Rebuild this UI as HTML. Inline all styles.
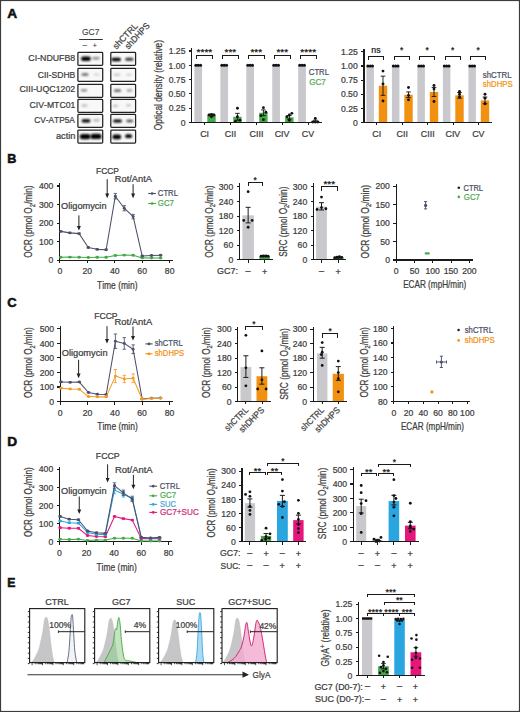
<!DOCTYPE html>
<html><head><meta charset="utf-8"><style>
html,body{margin:0;padding:0;background:#fff;}
svg{display:block;font-family:"Liberation Sans", sans-serif;}
text{font-kerning:none;font-variant-ligatures:none;}
</style></head><body>
<svg width="520" height="712" viewBox="0 0 520 712">
<rect x="0" y="0" width="520" height="712" fill="#fff"/>
<text transform="translate(7.36,17.90) scale(1.0389,1)" font-size="13.2" fill="#111" font-weight="bold" stroke="#111" stroke-width="0.55">A</text>
<text transform="translate(7.26,163.10) scale(0.9565,1)" font-size="13.2" fill="#111" font-weight="bold" stroke="#111" stroke-width="0.55">B</text>
<text transform="translate(7.17,307.30) scale(0.9849,1)" font-size="13.2" fill="#111" font-weight="bold" stroke="#111" stroke-width="0.55">C</text>
<text transform="translate(7.18,446.30) scale(1.0376,1)" font-size="13.2" fill="#111" font-weight="bold" stroke="#111" stroke-width="0.55">D</text>
<text transform="translate(7.28,586.50) scale(0.9317,1)" font-size="13.2" fill="#111" font-weight="bold" stroke="#111" stroke-width="0.55">E</text>
<defs><filter id="bl" x="-50%" y="-100%" width="200%" height="300%"><feGaussianBlur stdDeviation="0.85"/></filter></defs>
<rect x="77.90" y="52.40" width="24.80" height="13.0" fill="#f8f8f8" stroke="#222" stroke-width="1.25" rx="0.8"/>
<rect x="110.80" y="52.40" width="24.80" height="13.0" fill="#f8f8f8" stroke="#222" stroke-width="1.25" rx="0.8"/>
<rect x="81.00" y="56.50" width="9.80" height="4.40" rx="2.20" fill="#000" opacity="1.0" filter="url(#bl)"/>
<rect x="92.50" y="57.10" width="7.00" height="2.40" rx="1.20" fill="#000" opacity="0.45" filter="url(#bl)"/>
<rect x="111.40" y="57.70" width="9.60" height="3.60" rx="1.80" fill="#000" opacity="1.0" filter="url(#bl)"/>
<rect x="125.20" y="57.70" width="8.20" height="3.00" rx="1.50" fill="#000" opacity="0.8" filter="url(#bl)"/>
<text transform="translate(28.35,61.20) scale(0.9361,1)" font-size="9.4" fill="#3d3d3d" stroke="#3d3d3d" stroke-width="0.24">CI-NDUFB8</text>
<rect x="77.90" y="68.30" width="24.80" height="13.0" fill="#f8f8f8" stroke="#222" stroke-width="1.25" rx="0.8"/>
<rect x="110.80" y="68.30" width="24.80" height="13.0" fill="#f8f8f8" stroke="#222" stroke-width="1.25" rx="0.8"/>
<rect x="81.50" y="73.00" width="7.00" height="3.00" rx="1.50" fill="#000" opacity="0.5" filter="url(#bl)"/>
<rect x="93.50" y="73.30" width="6.00" height="2.40" rx="1.20" fill="#000" opacity="0.12" filter="url(#bl)"/>
<rect x="113.50" y="73.40" width="7.00" height="2.60" rx="1.30" fill="#000" opacity="0.18" filter="url(#bl)"/>
<rect x="126.00" y="73.50" width="6.00" height="2.40" rx="1.20" fill="#000" opacity="0.13" filter="url(#bl)"/>
<text transform="translate(37.77,77.70) scale(0.9110,1)" font-size="9.4" fill="#3d3d3d" stroke="#3d3d3d" stroke-width="0.24">CII-SDHB</text>
<rect x="77.90" y="84.30" width="24.80" height="13.0" fill="#f8f8f8" stroke="#222" stroke-width="1.25" rx="0.8"/>
<rect x="110.80" y="84.30" width="24.80" height="13.0" fill="#f8f8f8" stroke="#222" stroke-width="1.25" rx="0.8"/>
<rect x="80.80" y="89.20" width="6.40" height="2.20" rx="1.10" fill="#000" opacity="0.48" filter="url(#bl)"/>
<rect x="113.90" y="89.30" width="7.20" height="2.80" rx="1.40" fill="#000" opacity="0.55" filter="url(#bl)"/>
<rect x="126.70" y="89.30" width="5.60" height="2.40" rx="1.20" fill="#000" opacity="0.36" filter="url(#bl)"/>
<text transform="translate(19.45,92.10) scale(0.9385,1)" font-size="9.4" fill="#3d3d3d" stroke="#3d3d3d" stroke-width="0.24">CIII-UQC1202</text>
<rect x="77.90" y="99.40" width="24.80" height="13.0" fill="#f8f8f8" stroke="#222" stroke-width="1.25" rx="0.8"/>
<rect x="110.80" y="99.40" width="24.80" height="13.0" fill="#f8f8f8" stroke="#222" stroke-width="1.25" rx="0.8"/>
<rect x="81.50" y="103.90" width="6.00" height="3.00" rx="1.50" fill="#000" opacity="0.2" filter="url(#bl)"/>
<rect x="113.00" y="104.70" width="5.00" height="2.20" rx="1.10" fill="#000" opacity="0.24" filter="url(#bl)"/>
<rect x="126.00" y="104.30" width="5.00" height="2.20" rx="1.10" fill="#000" opacity="0.2" filter="url(#bl)"/>
<text transform="translate(29.56,108.30) scale(0.9224,1)" font-size="9.4" fill="#3d3d3d" stroke="#3d3d3d" stroke-width="0.24">CIV-MTC01</text>
<rect x="77.90" y="114.40" width="24.80" height="13.0" fill="#f8f8f8" stroke="#222" stroke-width="1.25" rx="0.8"/>
<rect x="110.80" y="114.40" width="24.80" height="13.0" fill="#f8f8f8" stroke="#222" stroke-width="1.25" rx="0.8"/>
<rect x="81.60" y="119.20" width="8.80" height="3.20" rx="1.60" fill="#000" opacity="1.0" filter="url(#bl)"/>
<rect x="93.30" y="119.20" width="6.40" height="2.20" rx="1.10" fill="#000" opacity="0.3" filter="url(#bl)"/>
<rect x="113.10" y="119.40" width="8.80" height="3.20" rx="1.60" fill="#000" opacity="1.0" filter="url(#bl)"/>
<rect x="126.30" y="119.80" width="6.80" height="2.40" rx="1.20" fill="#000" opacity="0.7" filter="url(#bl)"/>
<text transform="translate(34.18,122.80) scale(0.8863,1)" font-size="9.4" fill="#3d3d3d" stroke="#3d3d3d" stroke-width="0.24">CV-ATP5A</text>
<rect x="77.90" y="130.00" width="24.80" height="13.0" fill="#f8f8f8" stroke="#222" stroke-width="1.25" rx="0.8"/>
<rect x="110.80" y="130.00" width="24.80" height="13.0" fill="#f8f8f8" stroke="#222" stroke-width="1.25" rx="0.8"/>
<rect x="79.80" y="133.90" width="10.80" height="5.40" rx="2.70" fill="#000" opacity="1.0" filter="url(#bl)"/>
<rect x="90.50" y="133.70" width="11.00" height="5.40" rx="2.70" fill="#000" opacity="1.0" filter="url(#bl)"/>
<rect x="112.40" y="134.60" width="8.80" height="4.60" rx="2.30" fill="#000" opacity="1.0" filter="url(#bl)"/>
<rect x="125.10" y="134.30" width="7.00" height="3.80" rx="1.90" fill="#000" opacity="1.0" filter="url(#bl)"/>
<text transform="translate(55.91,138.70) scale(0.9870,1)" font-size="9.4" fill="#3d3d3d" stroke="#3d3d3d" stroke-width="0.24">actin</text>
<text transform="translate(81.97,35.20) scale(0.9227,1)" font-size="9.2" fill="#3d3d3d" stroke="#3d3d3d" stroke-width="0.1">GC7</text>
<line x1="79.20" y1="39.50" x2="102.80" y2="39.50" stroke="#333" stroke-width="1.0" />
<text transform="translate(82.40,47.60) scale(0.9641,1)" font-size="8.4" fill="#3d3d3d" stroke="#3d3d3d" stroke-width="0.1">–</text>
<text transform="translate(92.52,48.00)" font-size="7.8" fill="#3d3d3d" stroke="#3d3d3d" stroke-width="0.1">+</text>
<text transform="translate(116.60,49.60) rotate(-47) translate(-0.24,0) scale(0.9814,1)" font-size="8.9" fill="#3d3d3d" stroke="#3d3d3d" stroke-width="0.24">shCTRL</text>
<text transform="translate(128.60,49.60) rotate(-47) translate(-0.23,0) scale(0.9441,1)" font-size="8.9" fill="#3d3d3d" stroke="#3d3d3d" stroke-width="0.24">shDHPS</text>
<rect x="194.40" y="65.30" width="7.70" height="57.20" fill="#c9c8cd" />
<rect x="207.30" y="115.06" width="8.40" height="7.44" fill="#44aa48" />
<rect x="220.35" y="65.30" width="7.70" height="57.20" fill="#c9c8cd" />
<rect x="233.25" y="116.78" width="8.40" height="5.72" fill="#44aa48" />
<rect x="246.30" y="65.30" width="7.70" height="57.20" fill="#c9c8cd" />
<rect x="259.20" y="112.78" width="8.40" height="9.72" fill="#44aa48" />
<rect x="272.25" y="65.30" width="7.70" height="57.20" fill="#c9c8cd" />
<rect x="285.15" y="117.35" width="8.40" height="5.15" fill="#44aa48" />
<rect x="298.20" y="65.30" width="7.70" height="57.20" fill="#c9c8cd" />
<rect x="311.10" y="121.36" width="8.40" height="1.14" fill="#44aa48" />
<circle cx="195.95" cy="65.30" r="1.55" fill="#111"/>
<circle cx="198.25" cy="65.30" r="1.55" fill="#111"/>
<circle cx="200.55" cy="65.30" r="1.55" fill="#111"/>
<line x1="211.50" y1="115.92" x2="211.50" y2="114.21" stroke="#111" stroke-width="0.9" />
<line x1="209.20" y1="114.21" x2="213.80" y2="114.21" stroke="#111" stroke-width="0.9" />
<line x1="209.20" y1="115.92" x2="213.80" y2="115.92" stroke="#111" stroke-width="0.9" />
<circle cx="209.00" cy="115.06" r="1.45" fill="#111"/>
<circle cx="211.50" cy="114.49" r="1.45" fill="#111"/>
<circle cx="214.00" cy="115.06" r="1.45" fill="#111"/>
<circle cx="211.50" cy="116.78" r="1.45" fill="#111"/>
<circle cx="221.90" cy="65.30" r="1.55" fill="#111"/>
<circle cx="224.20" cy="65.30" r="1.55" fill="#111"/>
<circle cx="226.50" cy="65.30" r="1.55" fill="#111"/>
<line x1="237.45" y1="120.21" x2="237.45" y2="113.35" stroke="#111" stroke-width="0.9" />
<line x1="235.15" y1="113.35" x2="239.75" y2="113.35" stroke="#111" stroke-width="0.9" />
<line x1="235.15" y1="120.21" x2="239.75" y2="120.21" stroke="#111" stroke-width="0.9" />
<circle cx="235.45" cy="121.36" r="1.45" fill="#111"/>
<circle cx="237.45" cy="108.20" r="1.45" fill="#111"/>
<circle cx="239.95" cy="120.21" r="1.45" fill="#111"/>
<circle cx="237.45" cy="116.78" r="1.45" fill="#111"/>
<circle cx="247.85" cy="65.30" r="1.55" fill="#111"/>
<circle cx="250.15" cy="65.30" r="1.55" fill="#111"/>
<circle cx="252.45" cy="65.30" r="1.55" fill="#111"/>
<line x1="263.40" y1="115.64" x2="263.40" y2="109.92" stroke="#111" stroke-width="0.9" />
<line x1="261.10" y1="109.92" x2="265.70" y2="109.92" stroke="#111" stroke-width="0.9" />
<line x1="261.10" y1="115.64" x2="265.70" y2="115.64" stroke="#111" stroke-width="0.9" />
<circle cx="260.90" cy="115.64" r="1.45" fill="#111"/>
<circle cx="263.40" cy="107.63" r="1.45" fill="#111"/>
<circle cx="265.90" cy="112.20" r="1.45" fill="#111"/>
<circle cx="263.40" cy="119.64" r="1.45" fill="#111"/>
<circle cx="273.80" cy="65.30" r="1.55" fill="#111"/>
<circle cx="276.10" cy="65.30" r="1.55" fill="#111"/>
<circle cx="278.40" cy="65.30" r="1.55" fill="#111"/>
<line x1="289.35" y1="119.07" x2="289.35" y2="115.64" stroke="#111" stroke-width="0.9" />
<line x1="287.05" y1="115.64" x2="291.65" y2="115.64" stroke="#111" stroke-width="0.9" />
<line x1="287.05" y1="119.07" x2="291.65" y2="119.07" stroke="#111" stroke-width="0.9" />
<circle cx="286.85" cy="116.78" r="1.45" fill="#111"/>
<circle cx="289.35" cy="115.06" r="1.45" fill="#111"/>
<circle cx="291.85" cy="113.35" r="1.45" fill="#111"/>
<circle cx="289.35" cy="120.21" r="1.45" fill="#111"/>
<circle cx="299.75" cy="65.30" r="1.55" fill="#111"/>
<circle cx="302.05" cy="65.30" r="1.55" fill="#111"/>
<circle cx="304.35" cy="65.30" r="1.55" fill="#111"/>
<line x1="315.30" y1="122.50" x2="315.30" y2="120.21" stroke="#111" stroke-width="0.9" />
<line x1="313.00" y1="120.21" x2="317.60" y2="120.21" stroke="#111" stroke-width="0.9" />
<line x1="313.00" y1="122.50" x2="317.60" y2="122.50" stroke="#111" stroke-width="0.9" />
<circle cx="312.80" cy="121.93" r="1.45" fill="#111"/>
<circle cx="315.30" cy="118.50" r="1.45" fill="#111"/>
<circle cx="317.80" cy="121.93" r="1.45" fill="#111"/>
<circle cx="315.30" cy="121.93" r="1.45" fill="#111"/>
<line x1="191.70" y1="48.00" x2="191.70" y2="123.05" stroke="#1a1a1a" stroke-width="1.1"  shape-rendering="crispEdges"/>
<line x1="188.70" y1="122.50" x2="191.70" y2="122.50" stroke="#1a1a1a" stroke-width="1.1"  shape-rendering="crispEdges"/>
<text transform="translate(180.63,125.70) scale(0.9300,1)" font-size="9.3" fill="#3d3d3d" stroke="#3d3d3d" stroke-width="0.24">0</text>
<line x1="188.70" y1="108.20" x2="191.70" y2="108.20" stroke="#1a1a1a" stroke-width="1.1"  shape-rendering="crispEdges"/>
<text transform="translate(168.63,111.40) scale(0.9300,1)" font-size="9.3" fill="#3d3d3d" stroke="#3d3d3d" stroke-width="0.24">0.25</text>
<line x1="188.70" y1="93.90" x2="191.70" y2="93.90" stroke="#1a1a1a" stroke-width="1.1"  shape-rendering="crispEdges"/>
<text transform="translate(168.60,97.10) scale(0.9300,1)" font-size="9.3" fill="#3d3d3d" stroke="#3d3d3d" stroke-width="0.24">0.50</text>
<line x1="188.70" y1="79.60" x2="191.70" y2="79.60" stroke="#1a1a1a" stroke-width="1.1"  shape-rendering="crispEdges"/>
<text transform="translate(168.63,82.80) scale(0.9300,1)" font-size="9.3" fill="#3d3d3d" stroke="#3d3d3d" stroke-width="0.24">0.75</text>
<line x1="188.70" y1="65.30" x2="191.70" y2="65.30" stroke="#1a1a1a" stroke-width="1.1"  shape-rendering="crispEdges"/>
<text transform="translate(168.60,68.50) scale(0.9300,1)" font-size="9.3" fill="#3d3d3d" stroke="#3d3d3d" stroke-width="0.24">1.00</text>
<line x1="188.70" y1="51.00" x2="191.70" y2="51.00" stroke="#1a1a1a" stroke-width="1.1"  shape-rendering="crispEdges"/>
<text transform="translate(168.63,54.20) scale(0.9300,1)" font-size="9.3" fill="#3d3d3d" stroke="#3d3d3d" stroke-width="0.24">1.25</text>
<line x1="191.15" y1="122.50" x2="322.00" y2="122.50" stroke="#1a1a1a" stroke-width="1.1"  shape-rendering="crispEdges"/>
<line x1="204.40" y1="122.50" x2="204.40" y2="125.30" stroke="#1a1a1a" stroke-width="1.0"  shape-rendering="crispEdges"/>
<text transform="translate(200.13,136.80)" font-size="8.9" fill="#3d3d3d" stroke="#3d3d3d" stroke-width="0.24">CI</text>
<polyline points="196.65,59.40 196.65,55.20 212.20,55.20 212.20,59.40" fill="none" stroke="#1a1a1a" stroke-width="1.0" shape-rendering="crispEdges"/>
<text transform="translate(196.54,55.29) scale(1.1781,1)" font-size="8.6" fill="#1a1a1a" stroke="#1a1a1a" stroke-width="0.24">****</text>
<line x1="230.35" y1="122.50" x2="230.35" y2="125.30" stroke="#1a1a1a" stroke-width="1.0"  shape-rendering="crispEdges"/>
<text transform="translate(224.85,136.80)" font-size="8.9" fill="#3d3d3d" stroke="#3d3d3d" stroke-width="0.24">CII</text>
<polyline points="222.60,59.40 222.60,55.20 238.15,55.20 238.15,59.40" fill="none" stroke="#1a1a1a" stroke-width="1.0" shape-rendering="crispEdges"/>
<text transform="translate(224.56,55.29) scale(1.1569,1)" font-size="8.6" fill="#1a1a1a" stroke="#1a1a1a" stroke-width="0.24">***</text>
<line x1="256.30" y1="122.50" x2="256.30" y2="125.30" stroke="#1a1a1a" stroke-width="1.0"  shape-rendering="crispEdges"/>
<text transform="translate(249.56,136.80)" font-size="8.9" fill="#3d3d3d" stroke="#3d3d3d" stroke-width="0.24">CIII</text>
<polyline points="248.55,59.40 248.55,55.20 264.10,55.20 264.10,59.40" fill="none" stroke="#1a1a1a" stroke-width="1.0" shape-rendering="crispEdges"/>
<text transform="translate(250.51,55.29) scale(1.1569,1)" font-size="8.6" fill="#1a1a1a" stroke="#1a1a1a" stroke-width="0.24">***</text>
<line x1="282.25" y1="122.50" x2="282.25" y2="125.30" stroke="#1a1a1a" stroke-width="1.0"  shape-rendering="crispEdges"/>
<text transform="translate(274.63,136.80)" font-size="8.9" fill="#3d3d3d" stroke="#3d3d3d" stroke-width="0.24">CIV</text>
<polyline points="274.50,59.40 274.50,55.20 290.05,55.20 290.05,59.40" fill="none" stroke="#1a1a1a" stroke-width="1.0" shape-rendering="crispEdges"/>
<text transform="translate(276.46,55.29) scale(1.1569,1)" font-size="8.6" fill="#1a1a1a" stroke="#1a1a1a" stroke-width="0.24">***</text>
<line x1="308.20" y1="122.50" x2="308.20" y2="125.30" stroke="#1a1a1a" stroke-width="1.0"  shape-rendering="crispEdges"/>
<text transform="translate(301.81,136.80)" font-size="8.9" fill="#3d3d3d" stroke="#3d3d3d" stroke-width="0.24">CV</text>
<polyline points="300.45,59.40 300.45,55.20 316.00,55.20 316.00,59.40" fill="none" stroke="#1a1a1a" stroke-width="1.0" shape-rendering="crispEdges"/>
<text transform="translate(300.34,55.29) scale(1.1781,1)" font-size="8.6" fill="#1a1a1a" stroke="#1a1a1a" stroke-width="0.24">****</text>
<text transform="translate(308.81,74.80) scale(0.8714,1)" font-size="8.9" fill="#4a5064" stroke="#4a5064" stroke-width="0.24">CTRL</text>
<text transform="translate(309.19,84.60) scale(0.9078,1)" font-size="8.9" fill="#52a852" stroke="#52a852" stroke-width="0.24">GC7</text>
<rect x="366.40" y="66.00" width="7.50" height="56.40" fill="#c9c8cd" />
<rect x="378.80" y="85.74" width="8.40" height="36.66" fill="#f29111" />
<rect x="391.90" y="66.00" width="7.50" height="56.40" fill="#c9c8cd" />
<rect x="404.30" y="94.76" width="8.40" height="27.64" fill="#f29111" />
<rect x="417.40" y="66.00" width="7.50" height="56.40" fill="#c9c8cd" />
<rect x="429.80" y="91.94" width="8.40" height="30.46" fill="#f29111" />
<rect x="442.90" y="66.00" width="7.50" height="56.40" fill="#c9c8cd" />
<rect x="455.30" y="95.33" width="8.40" height="27.07" fill="#f29111" />
<rect x="468.40" y="66.00" width="7.50" height="56.40" fill="#c9c8cd" />
<rect x="480.80" y="100.40" width="8.40" height="22.00" fill="#f29111" />
<circle cx="367.85" cy="66.00" r="1.55" fill="#111"/>
<circle cx="370.15" cy="66.00" r="1.55" fill="#111"/>
<circle cx="372.45" cy="66.00" r="1.55" fill="#111"/>
<line x1="383.00" y1="95.33" x2="383.00" y2="76.15" stroke="#111" stroke-width="0.9" />
<line x1="380.70" y1="76.15" x2="385.30" y2="76.15" stroke="#111" stroke-width="0.9" />
<line x1="380.70" y1="95.33" x2="385.30" y2="95.33" stroke="#111" stroke-width="0.9" />
<circle cx="383.00" cy="71.08" r="1.45" fill="#111"/>
<circle cx="383.00" cy="84.05" r="1.45" fill="#111"/>
<circle cx="383.00" cy="100.97" r="1.45" fill="#111"/>
<circle cx="393.35" cy="66.00" r="1.55" fill="#111"/>
<circle cx="395.65" cy="66.00" r="1.55" fill="#111"/>
<circle cx="397.95" cy="66.00" r="1.55" fill="#111"/>
<line x1="408.50" y1="97.58" x2="408.50" y2="91.94" stroke="#111" stroke-width="0.9" />
<line x1="406.20" y1="91.94" x2="410.80" y2="91.94" stroke="#111" stroke-width="0.9" />
<line x1="406.20" y1="97.58" x2="410.80" y2="97.58" stroke="#111" stroke-width="0.9" />
<circle cx="408.50" cy="87.43" r="1.45" fill="#111"/>
<circle cx="408.50" cy="95.33" r="1.45" fill="#111"/>
<circle cx="408.50" cy="99.84" r="1.45" fill="#111"/>
<circle cx="418.85" cy="66.00" r="1.55" fill="#111"/>
<circle cx="421.15" cy="66.00" r="1.55" fill="#111"/>
<circle cx="423.45" cy="66.00" r="1.55" fill="#111"/>
<line x1="434.00" y1="96.46" x2="434.00" y2="87.43" stroke="#111" stroke-width="0.9" />
<line x1="431.70" y1="87.43" x2="436.30" y2="87.43" stroke="#111" stroke-width="0.9" />
<line x1="431.70" y1="96.46" x2="436.30" y2="96.46" stroke="#111" stroke-width="0.9" />
<circle cx="434.00" cy="85.46" r="1.45" fill="#111"/>
<circle cx="434.00" cy="89.12" r="1.45" fill="#111"/>
<circle cx="434.00" cy="101.53" r="1.45" fill="#111"/>
<circle cx="444.35" cy="66.00" r="1.55" fill="#111"/>
<circle cx="446.65" cy="66.00" r="1.55" fill="#111"/>
<circle cx="448.95" cy="66.00" r="1.55" fill="#111"/>
<line x1="459.50" y1="98.15" x2="459.50" y2="92.51" stroke="#111" stroke-width="0.9" />
<line x1="457.20" y1="92.51" x2="461.80" y2="92.51" stroke="#111" stroke-width="0.9" />
<line x1="457.20" y1="98.15" x2="461.80" y2="98.15" stroke="#111" stroke-width="0.9" />
<circle cx="459.50" cy="91.38" r="1.45" fill="#111"/>
<circle cx="459.50" cy="94.20" r="1.45" fill="#111"/>
<circle cx="459.50" cy="97.02" r="1.45" fill="#111"/>
<circle cx="469.85" cy="66.00" r="1.55" fill="#111"/>
<circle cx="472.15" cy="66.00" r="1.55" fill="#111"/>
<circle cx="474.45" cy="66.00" r="1.55" fill="#111"/>
<line x1="485.00" y1="103.79" x2="485.00" y2="97.02" stroke="#111" stroke-width="0.9" />
<line x1="482.70" y1="97.02" x2="487.30" y2="97.02" stroke="#111" stroke-width="0.9" />
<line x1="482.70" y1="103.79" x2="487.30" y2="103.79" stroke="#111" stroke-width="0.9" />
<circle cx="485.00" cy="94.20" r="1.45" fill="#111"/>
<circle cx="485.00" cy="98.15" r="1.45" fill="#111"/>
<circle cx="485.00" cy="103.79" r="1.45" fill="#111"/>
<line x1="364.00" y1="48.90" x2="364.00" y2="122.95" stroke="#1a1a1a" stroke-width="1.1"  shape-rendering="crispEdges"/>
<line x1="361.00" y1="122.40" x2="364.00" y2="122.40" stroke="#1a1a1a" stroke-width="1.1"  shape-rendering="crispEdges"/>
<text transform="translate(352.93,125.60) scale(0.9300,1)" font-size="9.3" fill="#3d3d3d" stroke="#3d3d3d" stroke-width="0.24">0</text>
<line x1="361.00" y1="108.30" x2="364.00" y2="108.30" stroke="#1a1a1a" stroke-width="1.1"  shape-rendering="crispEdges"/>
<text transform="translate(340.93,111.50) scale(0.9300,1)" font-size="9.3" fill="#3d3d3d" stroke="#3d3d3d" stroke-width="0.24">0.25</text>
<line x1="361.00" y1="94.20" x2="364.00" y2="94.20" stroke="#1a1a1a" stroke-width="1.1"  shape-rendering="crispEdges"/>
<text transform="translate(340.90,97.40) scale(0.9300,1)" font-size="9.3" fill="#3d3d3d" stroke="#3d3d3d" stroke-width="0.24">0.50</text>
<line x1="361.00" y1="80.10" x2="364.00" y2="80.10" stroke="#1a1a1a" stroke-width="1.1"  shape-rendering="crispEdges"/>
<text transform="translate(340.93,83.30) scale(0.9300,1)" font-size="9.3" fill="#3d3d3d" stroke="#3d3d3d" stroke-width="0.24">0.75</text>
<line x1="361.00" y1="66.00" x2="364.00" y2="66.00" stroke="#1a1a1a" stroke-width="1.1"  shape-rendering="crispEdges"/>
<text transform="translate(340.90,69.20) scale(0.9300,1)" font-size="9.3" fill="#3d3d3d" stroke="#3d3d3d" stroke-width="0.24">1.00</text>
<line x1="361.00" y1="51.90" x2="364.00" y2="51.90" stroke="#1a1a1a" stroke-width="1.1"  shape-rendering="crispEdges"/>
<text transform="translate(340.93,55.10) scale(0.9300,1)" font-size="9.3" fill="#3d3d3d" stroke="#3d3d3d" stroke-width="0.24">1.25</text>
<line x1="363.45" y1="122.40" x2="491.50" y2="122.40" stroke="#1a1a1a" stroke-width="1.1"  shape-rendering="crispEdges"/>
<line x1="376.60" y1="122.40" x2="376.60" y2="125.20" stroke="#1a1a1a" stroke-width="1.0"  shape-rendering="crispEdges"/>
<text transform="translate(372.33,136.80)" font-size="8.9" fill="#3d3d3d" stroke="#3d3d3d" stroke-width="0.24">CI</text>
<polyline points="368.55,60.30 368.55,56.10 383.70,56.10 383.70,60.30" fill="none" stroke="#1a1a1a" stroke-width="1.0" shape-rendering="crispEdges"/>
<text transform="translate(371.34,52.90)" font-size="8.8" fill="#222" stroke="#222" stroke-width="0.24">ns</text>
<line x1="402.10" y1="122.40" x2="402.10" y2="125.20" stroke="#1a1a1a" stroke-width="1.0"  shape-rendering="crispEdges"/>
<text transform="translate(396.60,136.80)" font-size="8.9" fill="#3d3d3d" stroke="#3d3d3d" stroke-width="0.24">CII</text>
<polyline points="394.05,60.30 394.05,56.10 409.20,56.10 409.20,60.30" fill="none" stroke="#1a1a1a" stroke-width="1.0" shape-rendering="crispEdges"/>
<text transform="translate(399.99,53.39) scale(0.9760,1)" font-size="8.6" fill="#1a1a1a" stroke="#1a1a1a" stroke-width="0.24">*</text>
<line x1="427.60" y1="122.40" x2="427.60" y2="125.20" stroke="#1a1a1a" stroke-width="1.0"  shape-rendering="crispEdges"/>
<text transform="translate(420.86,136.80)" font-size="8.9" fill="#3d3d3d" stroke="#3d3d3d" stroke-width="0.24">CIII</text>
<polyline points="419.55,60.30 419.55,56.10 434.70,56.10 434.70,60.30" fill="none" stroke="#1a1a1a" stroke-width="1.0" shape-rendering="crispEdges"/>
<text transform="translate(425.49,53.39) scale(0.9760,1)" font-size="8.6" fill="#1a1a1a" stroke="#1a1a1a" stroke-width="0.24">*</text>
<line x1="453.10" y1="122.40" x2="453.10" y2="125.20" stroke="#1a1a1a" stroke-width="1.0"  shape-rendering="crispEdges"/>
<text transform="translate(445.48,136.80)" font-size="8.9" fill="#3d3d3d" stroke="#3d3d3d" stroke-width="0.24">CIV</text>
<polyline points="445.05,60.30 445.05,56.10 460.20,56.10 460.20,60.30" fill="none" stroke="#1a1a1a" stroke-width="1.0" shape-rendering="crispEdges"/>
<text transform="translate(450.99,53.39) scale(0.9760,1)" font-size="8.6" fill="#1a1a1a" stroke="#1a1a1a" stroke-width="0.24">*</text>
<line x1="478.60" y1="122.40" x2="478.60" y2="125.20" stroke="#1a1a1a" stroke-width="1.0"  shape-rendering="crispEdges"/>
<text transform="translate(472.21,136.80)" font-size="8.9" fill="#3d3d3d" stroke="#3d3d3d" stroke-width="0.24">CV</text>
<polyline points="470.55,60.30 470.55,56.10 485.70,56.10 485.70,60.30" fill="none" stroke="#1a1a1a" stroke-width="1.0" shape-rendering="crispEdges"/>
<text transform="translate(476.49,53.39) scale(0.9760,1)" font-size="8.6" fill="#1a1a1a" stroke="#1a1a1a" stroke-width="0.24">*</text>
<text transform="translate(482.78,77.80) scale(0.8817,1)" font-size="8.9" fill="#4a5064" stroke="#4a5064" stroke-width="0.24">shCTRL</text>
<text transform="translate(482.78,87.40) scale(0.8754,1)" font-size="8.9" fill="#f29111" stroke="#f29111" stroke-width="0.24">shDHPS</text>
<text transform="translate(162.00,129.80) rotate(-90) translate(-0.40,0) scale(0.7655,1)" font-size="11.0" fill="#3d3d3d" stroke="#3d3d3d" stroke-width="0.24">Optical density (relative)</text>
<line x1="59.60" y1="183.40" x2="59.60" y2="260.65" stroke="#1a1a1a" stroke-width="1.1"  shape-rendering="crispEdges"/>
<line x1="56.60" y1="260.10" x2="59.60" y2="260.10" stroke="#1a1a1a" stroke-width="1.1"  shape-rendering="crispEdges"/>
<text transform="translate(48.53,263.30) scale(0.9300,1)" font-size="9.3" fill="#3d3d3d" stroke="#3d3d3d" stroke-width="0.24">0</text>
<line x1="56.60" y1="241.58" x2="59.60" y2="241.58" stroke="#1a1a1a" stroke-width="1.1"  shape-rendering="crispEdges"/>
<text transform="translate(38.91,244.78) scale(0.9300,1)" font-size="9.3" fill="#3d3d3d" stroke="#3d3d3d" stroke-width="0.24">100</text>
<line x1="56.60" y1="223.06" x2="59.60" y2="223.06" stroke="#1a1a1a" stroke-width="1.1"  shape-rendering="crispEdges"/>
<text transform="translate(38.91,226.26) scale(0.9300,1)" font-size="9.3" fill="#3d3d3d" stroke="#3d3d3d" stroke-width="0.24">200</text>
<line x1="56.60" y1="204.54" x2="59.60" y2="204.54" stroke="#1a1a1a" stroke-width="1.1"  shape-rendering="crispEdges"/>
<text transform="translate(38.91,207.74) scale(0.9300,1)" font-size="9.3" fill="#3d3d3d" stroke="#3d3d3d" stroke-width="0.24">300</text>
<line x1="56.60" y1="186.02" x2="59.60" y2="186.02" stroke="#1a1a1a" stroke-width="1.1"  shape-rendering="crispEdges"/>
<text transform="translate(38.91,189.22) scale(0.9300,1)" font-size="9.3" fill="#3d3d3d" stroke="#3d3d3d" stroke-width="0.24">400</text>
<line x1="59.05" y1="260.10" x2="172.95" y2="260.10" stroke="#1a1a1a" stroke-width="1.1"  shape-rendering="crispEdges"/>
<line x1="59.90" y1="260.10" x2="59.90" y2="263.10" stroke="#1a1a1a" stroke-width="1.0"  shape-rendering="crispEdges"/>
<text transform="translate(57.49,274.30) scale(0.9300,1)" font-size="9.3" fill="#3d3d3d" stroke="#3d3d3d" stroke-width="0.24">0</text>
<line x1="87.34" y1="260.10" x2="87.34" y2="263.10" stroke="#1a1a1a" stroke-width="1.0"  shape-rendering="crispEdges"/>
<text transform="translate(82.48,274.30) scale(0.9300,1)" font-size="9.3" fill="#3d3d3d" stroke="#3d3d3d" stroke-width="0.24">20</text>
<line x1="114.78" y1="260.10" x2="114.78" y2="263.10" stroke="#1a1a1a" stroke-width="1.0"  shape-rendering="crispEdges"/>
<text transform="translate(110.04,274.30) scale(0.9300,1)" font-size="9.3" fill="#3d3d3d" stroke="#3d3d3d" stroke-width="0.24">40</text>
<line x1="142.22" y1="260.10" x2="142.22" y2="263.10" stroke="#1a1a1a" stroke-width="1.0"  shape-rendering="crispEdges"/>
<text transform="translate(137.36,274.30) scale(0.9300,1)" font-size="9.3" fill="#3d3d3d" stroke="#3d3d3d" stroke-width="0.24">60</text>
<line x1="169.66" y1="260.10" x2="169.66" y2="263.10" stroke="#1a1a1a" stroke-width="1.0"  shape-rendering="crispEdges"/>
<text transform="translate(164.83,274.30) scale(0.9300,1)" font-size="9.3" fill="#3d3d3d" stroke="#3d3d3d" stroke-width="0.24">80</text>
<text transform="translate(97.01,288.80) scale(0.8077,1)" font-size="10.5" fill="#3d3d3d" stroke="#3d3d3d" stroke-width="0.24">Time (min)</text>
<text transform="translate(32.40,257.40) rotate(-90) translate(-0.40,0) scale(0.7605,1)" font-size="11.0" fill="#3d3d3d" stroke="#3d3d3d" stroke-width="0.24"><tspan>OCR (pmol O</tspan><tspan font-size="7.48" dy="2.42">2</tspan><tspan dy="-2.42">/min)</tspan></text>
<polyline points="60.72,257.32 69.92,257.14 79.11,257.32 88.30,257.51 97.22,257.32 106.14,257.32 115.33,255.47 124.25,255.10 133.16,255.28 142.22,257.88 151.55,258.06 160.60,258.06" fill="none" stroke="#44aa48" stroke-width="1.05" stroke-linejoin="round"/>
<line x1="60.72" y1="257.69" x2="60.72" y2="256.95" stroke="#44aa48" stroke-width="0.85" />
<line x1="59.02" y1="256.95" x2="62.42" y2="256.95" stroke="#44aa48" stroke-width="0.85" />
<line x1="59.02" y1="257.69" x2="62.42" y2="257.69" stroke="#44aa48" stroke-width="0.85" />
<line x1="69.92" y1="257.51" x2="69.92" y2="256.77" stroke="#44aa48" stroke-width="0.85" />
<line x1="68.22" y1="256.77" x2="71.62" y2="256.77" stroke="#44aa48" stroke-width="0.85" />
<line x1="68.22" y1="257.51" x2="71.62" y2="257.51" stroke="#44aa48" stroke-width="0.85" />
<line x1="79.11" y1="257.69" x2="79.11" y2="256.95" stroke="#44aa48" stroke-width="0.85" />
<line x1="77.41" y1="256.95" x2="80.81" y2="256.95" stroke="#44aa48" stroke-width="0.85" />
<line x1="77.41" y1="257.69" x2="80.81" y2="257.69" stroke="#44aa48" stroke-width="0.85" />
<line x1="88.30" y1="257.88" x2="88.30" y2="257.14" stroke="#44aa48" stroke-width="0.85" />
<line x1="86.60" y1="257.14" x2="90.00" y2="257.14" stroke="#44aa48" stroke-width="0.85" />
<line x1="86.60" y1="257.88" x2="90.00" y2="257.88" stroke="#44aa48" stroke-width="0.85" />
<line x1="97.22" y1="257.88" x2="97.22" y2="256.77" stroke="#44aa48" stroke-width="0.85" />
<line x1="95.52" y1="256.77" x2="98.92" y2="256.77" stroke="#44aa48" stroke-width="0.85" />
<line x1="95.52" y1="257.88" x2="98.92" y2="257.88" stroke="#44aa48" stroke-width="0.85" />
<line x1="106.14" y1="257.88" x2="106.14" y2="256.77" stroke="#44aa48" stroke-width="0.85" />
<line x1="104.44" y1="256.77" x2="107.84" y2="256.77" stroke="#44aa48" stroke-width="0.85" />
<line x1="104.44" y1="257.88" x2="107.84" y2="257.88" stroke="#44aa48" stroke-width="0.85" />
<line x1="115.33" y1="256.03" x2="115.33" y2="254.91" stroke="#44aa48" stroke-width="0.85" />
<line x1="113.63" y1="254.91" x2="117.03" y2="254.91" stroke="#44aa48" stroke-width="0.85" />
<line x1="113.63" y1="256.03" x2="117.03" y2="256.03" stroke="#44aa48" stroke-width="0.85" />
<line x1="124.25" y1="255.66" x2="124.25" y2="254.54" stroke="#44aa48" stroke-width="0.85" />
<line x1="122.55" y1="254.54" x2="125.95" y2="254.54" stroke="#44aa48" stroke-width="0.85" />
<line x1="122.55" y1="255.66" x2="125.95" y2="255.66" stroke="#44aa48" stroke-width="0.85" />
<line x1="133.16" y1="255.84" x2="133.16" y2="254.73" stroke="#44aa48" stroke-width="0.85" />
<line x1="131.46" y1="254.73" x2="134.86" y2="254.73" stroke="#44aa48" stroke-width="0.85" />
<line x1="131.46" y1="255.84" x2="134.86" y2="255.84" stroke="#44aa48" stroke-width="0.85" />
<line x1="142.22" y1="258.06" x2="142.22" y2="257.69" stroke="#44aa48" stroke-width="0.85" />
<line x1="140.52" y1="257.69" x2="143.92" y2="257.69" stroke="#44aa48" stroke-width="0.85" />
<line x1="140.52" y1="258.06" x2="143.92" y2="258.06" stroke="#44aa48" stroke-width="0.85" />
<line x1="151.55" y1="258.25" x2="151.55" y2="257.88" stroke="#44aa48" stroke-width="0.85" />
<line x1="149.85" y1="257.88" x2="153.25" y2="257.88" stroke="#44aa48" stroke-width="0.85" />
<line x1="149.85" y1="258.25" x2="153.25" y2="258.25" stroke="#44aa48" stroke-width="0.85" />
<line x1="160.60" y1="258.25" x2="160.60" y2="257.88" stroke="#44aa48" stroke-width="0.85" />
<line x1="158.90" y1="257.88" x2="162.30" y2="257.88" stroke="#44aa48" stroke-width="0.85" />
<line x1="158.90" y1="258.25" x2="162.30" y2="258.25" stroke="#44aa48" stroke-width="0.85" />
<circle cx="60.72" cy="257.32" r="1.45" fill="#44aa48"/>
<circle cx="69.92" cy="257.14" r="1.45" fill="#44aa48"/>
<circle cx="79.11" cy="257.32" r="1.45" fill="#44aa48"/>
<circle cx="88.30" cy="257.51" r="1.45" fill="#44aa48"/>
<circle cx="97.22" cy="257.32" r="1.45" fill="#44aa48"/>
<circle cx="106.14" cy="257.32" r="1.45" fill="#44aa48"/>
<circle cx="115.33" cy="255.47" r="1.45" fill="#44aa48"/>
<circle cx="124.25" cy="255.10" r="1.45" fill="#44aa48"/>
<circle cx="133.16" cy="255.28" r="1.45" fill="#44aa48"/>
<circle cx="142.22" cy="257.88" r="1.45" fill="#44aa48"/>
<circle cx="151.55" cy="258.06" r="1.45" fill="#44aa48"/>
<circle cx="160.60" cy="258.06" r="1.45" fill="#44aa48"/>
<polyline points="60.72,231.39 69.92,232.88 79.11,233.62 88.30,247.51 97.22,249.36 106.14,249.73 115.33,196.21 124.25,208.24 133.16,216.58 142.22,256.03 151.55,255.47 160.60,255.28" fill="none" stroke="#4a5069" stroke-width="1.05" stroke-linejoin="round"/>
<line x1="60.72" y1="231.95" x2="60.72" y2="230.84" stroke="#4a5069" stroke-width="0.85" />
<line x1="59.02" y1="230.84" x2="62.42" y2="230.84" stroke="#4a5069" stroke-width="0.85" />
<line x1="59.02" y1="231.95" x2="62.42" y2="231.95" stroke="#4a5069" stroke-width="0.85" />
<line x1="69.92" y1="233.43" x2="69.92" y2="232.32" stroke="#4a5069" stroke-width="0.85" />
<line x1="68.22" y1="232.32" x2="71.62" y2="232.32" stroke="#4a5069" stroke-width="0.85" />
<line x1="68.22" y1="233.43" x2="71.62" y2="233.43" stroke="#4a5069" stroke-width="0.85" />
<line x1="79.11" y1="234.17" x2="79.11" y2="233.06" stroke="#4a5069" stroke-width="0.85" />
<line x1="77.41" y1="233.06" x2="80.81" y2="233.06" stroke="#4a5069" stroke-width="0.85" />
<line x1="77.41" y1="234.17" x2="80.81" y2="234.17" stroke="#4a5069" stroke-width="0.85" />
<line x1="88.30" y1="248.06" x2="88.30" y2="246.95" stroke="#4a5069" stroke-width="0.85" />
<line x1="86.60" y1="246.95" x2="90.00" y2="246.95" stroke="#4a5069" stroke-width="0.85" />
<line x1="86.60" y1="248.06" x2="90.00" y2="248.06" stroke="#4a5069" stroke-width="0.85" />
<line x1="97.22" y1="249.91" x2="97.22" y2="248.80" stroke="#4a5069" stroke-width="0.85" />
<line x1="95.52" y1="248.80" x2="98.92" y2="248.80" stroke="#4a5069" stroke-width="0.85" />
<line x1="95.52" y1="249.91" x2="98.92" y2="249.91" stroke="#4a5069" stroke-width="0.85" />
<line x1="106.14" y1="250.28" x2="106.14" y2="249.17" stroke="#4a5069" stroke-width="0.85" />
<line x1="104.44" y1="249.17" x2="107.84" y2="249.17" stroke="#4a5069" stroke-width="0.85" />
<line x1="104.44" y1="250.28" x2="107.84" y2="250.28" stroke="#4a5069" stroke-width="0.85" />
<line x1="115.33" y1="198.98" x2="115.33" y2="193.43" stroke="#4a5069" stroke-width="0.85" />
<line x1="113.63" y1="193.43" x2="117.03" y2="193.43" stroke="#4a5069" stroke-width="0.85" />
<line x1="113.63" y1="198.98" x2="117.03" y2="198.98" stroke="#4a5069" stroke-width="0.85" />
<line x1="124.25" y1="210.84" x2="124.25" y2="205.65" stroke="#4a5069" stroke-width="0.85" />
<line x1="122.55" y1="205.65" x2="125.95" y2="205.65" stroke="#4a5069" stroke-width="0.85" />
<line x1="122.55" y1="210.84" x2="125.95" y2="210.84" stroke="#4a5069" stroke-width="0.85" />
<line x1="133.16" y1="218.80" x2="133.16" y2="214.36" stroke="#4a5069" stroke-width="0.85" />
<line x1="131.46" y1="214.36" x2="134.86" y2="214.36" stroke="#4a5069" stroke-width="0.85" />
<line x1="131.46" y1="218.80" x2="134.86" y2="218.80" stroke="#4a5069" stroke-width="0.85" />
<line x1="142.22" y1="256.40" x2="142.22" y2="255.66" stroke="#4a5069" stroke-width="0.85" />
<line x1="140.52" y1="255.66" x2="143.92" y2="255.66" stroke="#4a5069" stroke-width="0.85" />
<line x1="140.52" y1="256.40" x2="143.92" y2="256.40" stroke="#4a5069" stroke-width="0.85" />
<line x1="151.55" y1="255.84" x2="151.55" y2="255.10" stroke="#4a5069" stroke-width="0.85" />
<line x1="149.85" y1="255.10" x2="153.25" y2="255.10" stroke="#4a5069" stroke-width="0.85" />
<line x1="149.85" y1="255.84" x2="153.25" y2="255.84" stroke="#4a5069" stroke-width="0.85" />
<line x1="160.60" y1="255.66" x2="160.60" y2="254.91" stroke="#4a5069" stroke-width="0.85" />
<line x1="158.90" y1="254.91" x2="162.30" y2="254.91" stroke="#4a5069" stroke-width="0.85" />
<line x1="158.90" y1="255.66" x2="162.30" y2="255.66" stroke="#4a5069" stroke-width="0.85" />
<circle cx="60.72" cy="231.39" r="1.45" fill="#4a5069"/>
<circle cx="69.92" cy="232.88" r="1.45" fill="#4a5069"/>
<circle cx="79.11" cy="233.62" r="1.45" fill="#4a5069"/>
<circle cx="88.30" cy="247.51" r="1.45" fill="#4a5069"/>
<circle cx="97.22" cy="249.36" r="1.45" fill="#4a5069"/>
<circle cx="106.14" cy="249.73" r="1.45" fill="#4a5069"/>
<circle cx="115.33" cy="196.21" r="1.45" fill="#4a5069"/>
<circle cx="124.25" cy="208.24" r="1.45" fill="#4a5069"/>
<circle cx="133.16" cy="216.58" r="1.45" fill="#4a5069"/>
<circle cx="142.22" cy="256.03" r="1.45" fill="#4a5069"/>
<circle cx="151.55" cy="255.47" r="1.45" fill="#4a5069"/>
<circle cx="160.60" cy="255.28" r="1.45" fill="#4a5069"/>
<text transform="translate(61.06,208.50)" font-size="9.2" fill="#3d3d3d" stroke="#3d3d3d" stroke-width="0.24">Oligomycin</text>
<line x1="78.90" y1="215.40" x2="78.90" y2="228.60" stroke="#222" stroke-width="1.0" />
<polygon points="76.90,226.00 80.90,226.00 78.90,230.60" fill="#222"/>
<text transform="translate(96.01,174.10) scale(0.9362,1)" font-size="9.0" fill="#3d3d3d" stroke="#3d3d3d" stroke-width="0.24">FCCP</text>
<line x1="107.20" y1="179.20" x2="107.20" y2="196.20" stroke="#222" stroke-width="1.0" />
<polygon points="105.20,193.60 109.20,193.60 107.20,198.20" fill="#222"/>
<text transform="translate(114.84,182.20) scale(1.0294,1)" font-size="9.0" fill="#3d3d3d" stroke="#3d3d3d" stroke-width="0.24">Rot/AntA</text>
<line x1="133.10" y1="184.20" x2="133.10" y2="196.20" stroke="#222" stroke-width="1.0" />
<polygon points="131.10,193.60 135.10,193.60 133.10,198.20" fill="#222"/>
<line x1="148.20" y1="193.50" x2="155.90" y2="193.50" stroke="#4a5069" stroke-width="1.1" />
<circle cx="152.05" cy="193.50" r="1.35" fill="#4a5069"/>
<text transform="translate(157.81,196.40) scale(0.8714,1)" font-size="8.9" fill="#4a5064" stroke="#4a5064" stroke-width="0.24">CTRL</text>
<line x1="148.20" y1="203.50" x2="155.90" y2="203.50" stroke="#44aa48" stroke-width="1.1" />
<circle cx="152.05" cy="203.50" r="1.35" fill="#44aa48"/>
<text transform="translate(157.80,206.20) scale(0.8848,1)" font-size="8.9" fill="#52a852" stroke="#52a852" stroke-width="0.24">GC7</text>
<line x1="60.40" y1="326.00" x2="60.40" y2="402.05" stroke="#1a1a1a" stroke-width="1.1"  shape-rendering="crispEdges"/>
<line x1="57.40" y1="401.50" x2="60.40" y2="401.50" stroke="#1a1a1a" stroke-width="1.1"  shape-rendering="crispEdges"/>
<text transform="translate(49.33,404.70) scale(0.9300,1)" font-size="9.3" fill="#3d3d3d" stroke="#3d3d3d" stroke-width="0.24">0</text>
<line x1="57.40" y1="386.98" x2="60.40" y2="386.98" stroke="#1a1a1a" stroke-width="1.1"  shape-rendering="crispEdges"/>
<text transform="translate(39.71,390.18) scale(0.9300,1)" font-size="9.3" fill="#3d3d3d" stroke="#3d3d3d" stroke-width="0.24">100</text>
<line x1="57.40" y1="372.46" x2="60.40" y2="372.46" stroke="#1a1a1a" stroke-width="1.1"  shape-rendering="crispEdges"/>
<text transform="translate(39.71,375.66) scale(0.9300,1)" font-size="9.3" fill="#3d3d3d" stroke="#3d3d3d" stroke-width="0.24">200</text>
<line x1="57.40" y1="357.94" x2="60.40" y2="357.94" stroke="#1a1a1a" stroke-width="1.1"  shape-rendering="crispEdges"/>
<text transform="translate(39.71,361.14) scale(0.9300,1)" font-size="9.3" fill="#3d3d3d" stroke="#3d3d3d" stroke-width="0.24">300</text>
<line x1="57.40" y1="343.42" x2="60.40" y2="343.42" stroke="#1a1a1a" stroke-width="1.1"  shape-rendering="crispEdges"/>
<text transform="translate(39.71,346.62) scale(0.9300,1)" font-size="9.3" fill="#3d3d3d" stroke="#3d3d3d" stroke-width="0.24">400</text>
<line x1="57.40" y1="328.90" x2="60.40" y2="328.90" stroke="#1a1a1a" stroke-width="1.1"  shape-rendering="crispEdges"/>
<text transform="translate(39.71,332.10) scale(0.9300,1)" font-size="9.3" fill="#3d3d3d" stroke="#3d3d3d" stroke-width="0.24">500</text>
<line x1="59.85" y1="401.50" x2="172.76" y2="401.50" stroke="#1a1a1a" stroke-width="1.1"  shape-rendering="crispEdges"/>
<line x1="60.20" y1="401.50" x2="60.20" y2="404.50" stroke="#1a1a1a" stroke-width="1.0"  shape-rendering="crispEdges"/>
<text transform="translate(57.79,415.70) scale(0.9300,1)" font-size="9.3" fill="#3d3d3d" stroke="#3d3d3d" stroke-width="0.24">0</text>
<line x1="87.52" y1="401.50" x2="87.52" y2="404.50" stroke="#1a1a1a" stroke-width="1.0"  shape-rendering="crispEdges"/>
<text transform="translate(82.66,415.70) scale(0.9300,1)" font-size="9.3" fill="#3d3d3d" stroke="#3d3d3d" stroke-width="0.24">20</text>
<line x1="114.84" y1="401.50" x2="114.84" y2="404.50" stroke="#1a1a1a" stroke-width="1.0"  shape-rendering="crispEdges"/>
<text transform="translate(110.10,415.70) scale(0.9300,1)" font-size="9.3" fill="#3d3d3d" stroke="#3d3d3d" stroke-width="0.24">40</text>
<line x1="142.16" y1="401.50" x2="142.16" y2="404.50" stroke="#1a1a1a" stroke-width="1.0"  shape-rendering="crispEdges"/>
<text transform="translate(137.30,415.70) scale(0.9300,1)" font-size="9.3" fill="#3d3d3d" stroke="#3d3d3d" stroke-width="0.24">60</text>
<line x1="169.48" y1="401.50" x2="169.48" y2="404.50" stroke="#1a1a1a" stroke-width="1.0"  shape-rendering="crispEdges"/>
<text transform="translate(164.65,415.70) scale(0.9300,1)" font-size="9.3" fill="#3d3d3d" stroke="#3d3d3d" stroke-width="0.24">80</text>
<text transform="translate(97.31,430.20) scale(0.8077,1)" font-size="10.5" fill="#3d3d3d" stroke="#3d3d3d" stroke-width="0.24">Time (min)</text>
<text transform="translate(32.40,397.60) rotate(-90) translate(-0.39,0) scale(0.7445,1)" font-size="11.0" fill="#3d3d3d" stroke="#3d3d3d" stroke-width="0.24"><tspan>OCR (pmol O</tspan><tspan font-size="7.48" dy="2.42">2</tspan><tspan dy="-2.42">/min)</tspan></text>
<polyline points="61.02,381.90 70.17,382.33 79.32,382.04 88.48,392.50 97.36,394.24 106.23,394.53 115.39,341.24 124.27,343.42 133.14,349.23 142.16,398.89 151.45,398.31 160.46,398.02" fill="none" stroke="#4a5069" stroke-width="1.05" stroke-linejoin="round"/>
<line x1="61.02" y1="382.48" x2="61.02" y2="381.32" stroke="#4a5069" stroke-width="0.85" />
<line x1="59.32" y1="381.32" x2="62.72" y2="381.32" stroke="#4a5069" stroke-width="0.85" />
<line x1="59.32" y1="382.48" x2="62.72" y2="382.48" stroke="#4a5069" stroke-width="0.85" />
<line x1="70.17" y1="382.77" x2="70.17" y2="381.90" stroke="#4a5069" stroke-width="0.85" />
<line x1="68.47" y1="381.90" x2="71.87" y2="381.90" stroke="#4a5069" stroke-width="0.85" />
<line x1="68.47" y1="382.77" x2="71.87" y2="382.77" stroke="#4a5069" stroke-width="0.85" />
<line x1="79.32" y1="382.48" x2="79.32" y2="381.61" stroke="#4a5069" stroke-width="0.85" />
<line x1="77.62" y1="381.61" x2="81.02" y2="381.61" stroke="#4a5069" stroke-width="0.85" />
<line x1="77.62" y1="382.48" x2="81.02" y2="382.48" stroke="#4a5069" stroke-width="0.85" />
<line x1="88.48" y1="392.93" x2="88.48" y2="392.06" stroke="#4a5069" stroke-width="0.85" />
<line x1="86.78" y1="392.06" x2="90.18" y2="392.06" stroke="#4a5069" stroke-width="0.85" />
<line x1="86.78" y1="392.93" x2="90.18" y2="392.93" stroke="#4a5069" stroke-width="0.85" />
<line x1="97.36" y1="394.68" x2="97.36" y2="393.80" stroke="#4a5069" stroke-width="0.85" />
<line x1="95.66" y1="393.80" x2="99.06" y2="393.80" stroke="#4a5069" stroke-width="0.85" />
<line x1="95.66" y1="394.68" x2="99.06" y2="394.68" stroke="#4a5069" stroke-width="0.85" />
<line x1="106.23" y1="394.97" x2="106.23" y2="394.09" stroke="#4a5069" stroke-width="0.85" />
<line x1="104.53" y1="394.09" x2="107.93" y2="394.09" stroke="#4a5069" stroke-width="0.85" />
<line x1="104.53" y1="394.97" x2="107.93" y2="394.97" stroke="#4a5069" stroke-width="0.85" />
<line x1="115.39" y1="348.50" x2="115.39" y2="333.98" stroke="#4a5069" stroke-width="0.85" />
<line x1="113.69" y1="333.98" x2="117.09" y2="333.98" stroke="#4a5069" stroke-width="0.85" />
<line x1="113.69" y1="348.50" x2="117.09" y2="348.50" stroke="#4a5069" stroke-width="0.85" />
<line x1="124.27" y1="349.23" x2="124.27" y2="337.61" stroke="#4a5069" stroke-width="0.85" />
<line x1="122.57" y1="337.61" x2="125.97" y2="337.61" stroke="#4a5069" stroke-width="0.85" />
<line x1="122.57" y1="349.23" x2="125.97" y2="349.23" stroke="#4a5069" stroke-width="0.85" />
<line x1="133.14" y1="353.58" x2="133.14" y2="344.87" stroke="#4a5069" stroke-width="0.85" />
<line x1="131.44" y1="344.87" x2="134.84" y2="344.87" stroke="#4a5069" stroke-width="0.85" />
<line x1="131.44" y1="353.58" x2="134.84" y2="353.58" stroke="#4a5069" stroke-width="0.85" />
<line x1="142.16" y1="399.18" x2="142.16" y2="398.60" stroke="#4a5069" stroke-width="0.85" />
<line x1="140.46" y1="398.60" x2="143.86" y2="398.60" stroke="#4a5069" stroke-width="0.85" />
<line x1="140.46" y1="399.18" x2="143.86" y2="399.18" stroke="#4a5069" stroke-width="0.85" />
<line x1="151.45" y1="398.60" x2="151.45" y2="398.02" stroke="#4a5069" stroke-width="0.85" />
<line x1="149.75" y1="398.02" x2="153.15" y2="398.02" stroke="#4a5069" stroke-width="0.85" />
<line x1="149.75" y1="398.60" x2="153.15" y2="398.60" stroke="#4a5069" stroke-width="0.85" />
<line x1="160.46" y1="398.31" x2="160.46" y2="397.72" stroke="#4a5069" stroke-width="0.85" />
<line x1="158.76" y1="397.72" x2="162.16" y2="397.72" stroke="#4a5069" stroke-width="0.85" />
<line x1="158.76" y1="398.31" x2="162.16" y2="398.31" stroke="#4a5069" stroke-width="0.85" />
<circle cx="61.02" cy="381.90" r="1.45" fill="#4a5069"/>
<circle cx="70.17" cy="382.33" r="1.45" fill="#4a5069"/>
<circle cx="79.32" cy="382.04" r="1.45" fill="#4a5069"/>
<circle cx="88.48" cy="392.50" r="1.45" fill="#4a5069"/>
<circle cx="97.36" cy="394.24" r="1.45" fill="#4a5069"/>
<circle cx="106.23" cy="394.53" r="1.45" fill="#4a5069"/>
<circle cx="115.39" cy="341.24" r="1.45" fill="#4a5069"/>
<circle cx="124.27" cy="343.42" r="1.45" fill="#4a5069"/>
<circle cx="133.14" cy="349.23" r="1.45" fill="#4a5069"/>
<circle cx="142.16" cy="398.89" r="1.45" fill="#4a5069"/>
<circle cx="151.45" cy="398.31" r="1.45" fill="#4a5069"/>
<circle cx="160.46" cy="398.02" r="1.45" fill="#4a5069"/>
<polyline points="61.02,388.14 70.17,389.01 79.32,389.30 88.48,396.56 97.36,396.85 106.23,396.85 115.39,376.09 124.27,378.99 133.14,378.27 142.16,399.32 151.45,398.60 160.46,398.31" fill="none" stroke="#f39c25" stroke-width="1.05" stroke-linejoin="round"/>
<line x1="61.02" y1="388.72" x2="61.02" y2="387.56" stroke="#f39c25" stroke-width="0.85" />
<line x1="59.32" y1="387.56" x2="62.72" y2="387.56" stroke="#f39c25" stroke-width="0.85" />
<line x1="59.32" y1="388.72" x2="62.72" y2="388.72" stroke="#f39c25" stroke-width="0.85" />
<line x1="70.17" y1="389.45" x2="70.17" y2="388.58" stroke="#f39c25" stroke-width="0.85" />
<line x1="68.47" y1="388.58" x2="71.87" y2="388.58" stroke="#f39c25" stroke-width="0.85" />
<line x1="68.47" y1="389.45" x2="71.87" y2="389.45" stroke="#f39c25" stroke-width="0.85" />
<line x1="79.32" y1="389.74" x2="79.32" y2="388.87" stroke="#f39c25" stroke-width="0.85" />
<line x1="77.62" y1="388.87" x2="81.02" y2="388.87" stroke="#f39c25" stroke-width="0.85" />
<line x1="77.62" y1="389.74" x2="81.02" y2="389.74" stroke="#f39c25" stroke-width="0.85" />
<line x1="88.48" y1="397.00" x2="88.48" y2="396.13" stroke="#f39c25" stroke-width="0.85" />
<line x1="86.78" y1="396.13" x2="90.18" y2="396.13" stroke="#f39c25" stroke-width="0.85" />
<line x1="86.78" y1="397.00" x2="90.18" y2="397.00" stroke="#f39c25" stroke-width="0.85" />
<line x1="97.36" y1="397.29" x2="97.36" y2="396.42" stroke="#f39c25" stroke-width="0.85" />
<line x1="95.66" y1="396.42" x2="99.06" y2="396.42" stroke="#f39c25" stroke-width="0.85" />
<line x1="95.66" y1="397.29" x2="99.06" y2="397.29" stroke="#f39c25" stroke-width="0.85" />
<line x1="106.23" y1="397.29" x2="106.23" y2="396.42" stroke="#f39c25" stroke-width="0.85" />
<line x1="104.53" y1="396.42" x2="107.93" y2="396.42" stroke="#f39c25" stroke-width="0.85" />
<line x1="104.53" y1="397.29" x2="107.93" y2="397.29" stroke="#f39c25" stroke-width="0.85" />
<line x1="115.39" y1="382.62" x2="115.39" y2="369.56" stroke="#f39c25" stroke-width="0.85" />
<line x1="113.69" y1="369.56" x2="117.09" y2="369.56" stroke="#f39c25" stroke-width="0.85" />
<line x1="113.69" y1="382.62" x2="117.09" y2="382.62" stroke="#f39c25" stroke-width="0.85" />
<line x1="124.27" y1="382.62" x2="124.27" y2="375.36" stroke="#f39c25" stroke-width="0.85" />
<line x1="122.57" y1="375.36" x2="125.97" y2="375.36" stroke="#f39c25" stroke-width="0.85" />
<line x1="122.57" y1="382.62" x2="125.97" y2="382.62" stroke="#f39c25" stroke-width="0.85" />
<line x1="133.14" y1="382.62" x2="133.14" y2="373.91" stroke="#f39c25" stroke-width="0.85" />
<line x1="131.44" y1="373.91" x2="134.84" y2="373.91" stroke="#f39c25" stroke-width="0.85" />
<line x1="131.44" y1="382.62" x2="134.84" y2="382.62" stroke="#f39c25" stroke-width="0.85" />
<line x1="142.16" y1="399.61" x2="142.16" y2="399.03" stroke="#f39c25" stroke-width="0.85" />
<line x1="140.46" y1="399.03" x2="143.86" y2="399.03" stroke="#f39c25" stroke-width="0.85" />
<line x1="140.46" y1="399.61" x2="143.86" y2="399.61" stroke="#f39c25" stroke-width="0.85" />
<line x1="151.45" y1="398.89" x2="151.45" y2="398.31" stroke="#f39c25" stroke-width="0.85" />
<line x1="149.75" y1="398.31" x2="153.15" y2="398.31" stroke="#f39c25" stroke-width="0.85" />
<line x1="149.75" y1="398.89" x2="153.15" y2="398.89" stroke="#f39c25" stroke-width="0.85" />
<line x1="160.46" y1="398.60" x2="160.46" y2="398.02" stroke="#f39c25" stroke-width="0.85" />
<line x1="158.76" y1="398.02" x2="162.16" y2="398.02" stroke="#f39c25" stroke-width="0.85" />
<line x1="158.76" y1="398.60" x2="162.16" y2="398.60" stroke="#f39c25" stroke-width="0.85" />
<circle cx="61.02" cy="388.14" r="1.45" fill="#f39c25"/>
<circle cx="70.17" cy="389.01" r="1.45" fill="#f39c25"/>
<circle cx="79.32" cy="389.30" r="1.45" fill="#f39c25"/>
<circle cx="88.48" cy="396.56" r="1.45" fill="#f39c25"/>
<circle cx="97.36" cy="396.85" r="1.45" fill="#f39c25"/>
<circle cx="106.23" cy="396.85" r="1.45" fill="#f39c25"/>
<circle cx="115.39" cy="376.09" r="1.45" fill="#f39c25"/>
<circle cx="124.27" cy="378.99" r="1.45" fill="#f39c25"/>
<circle cx="133.14" cy="378.27" r="1.45" fill="#f39c25"/>
<circle cx="142.16" cy="399.32" r="1.45" fill="#f39c25"/>
<circle cx="151.45" cy="398.60" r="1.45" fill="#f39c25"/>
<circle cx="160.46" cy="398.31" r="1.45" fill="#f39c25"/>
<text transform="translate(61.76,355.60) scale(1.0075,1)" font-size="9.2" fill="#3d3d3d" stroke="#3d3d3d" stroke-width="0.24">Oligomycin</text>
<line x1="78.60" y1="359.80" x2="78.60" y2="376.20" stroke="#222" stroke-width="1.0" />
<polygon points="76.60,373.60 80.60,373.60 78.60,378.20" fill="#222"/>
<text transform="translate(94.19,319.10) scale(0.9576,1)" font-size="9.0" fill="#3d3d3d" stroke="#3d3d3d" stroke-width="0.24">FCCP</text>
<line x1="107.00" y1="326.20" x2="107.00" y2="341.50" stroke="#222" stroke-width="1.0" />
<polygon points="105.00,338.90 109.00,338.90 107.00,343.50" fill="#222"/>
<text transform="translate(114.53,325.20) scale(1.0465,1)" font-size="9.0" fill="#3d3d3d" stroke="#3d3d3d" stroke-width="0.24">Rot/AntA</text>
<line x1="133.00" y1="326.50" x2="133.00" y2="338.60" stroke="#222" stroke-width="1.0" />
<polygon points="131.00,336.00 135.00,336.00 133.00,340.60" fill="#222"/>
<line x1="145.40" y1="343.90" x2="152.60" y2="343.90" stroke="#4a5069" stroke-width="1.1" />
<circle cx="149.00" cy="343.90" r="1.35" fill="#4a5069"/>
<text transform="translate(154.79,346.30) scale(0.8537,1)" font-size="8.9" fill="#4a5064" stroke="#4a5064" stroke-width="0.24">shCTRL</text>
<line x1="145.40" y1="353.80" x2="152.60" y2="353.80" stroke="#f29111" stroke-width="1.1" />
<circle cx="149.00" cy="353.80" r="1.35" fill="#f29111"/>
<text transform="translate(154.79,356.00) scale(0.8605,1)" font-size="8.9" fill="#f29111" stroke="#f29111" stroke-width="0.24">shDHPS</text>
<line x1="59.50" y1="466.50" x2="59.50" y2="542.45" stroke="#1a1a1a" stroke-width="1.1"  shape-rendering="crispEdges"/>
<line x1="56.50" y1="541.90" x2="59.50" y2="541.90" stroke="#1a1a1a" stroke-width="1.1"  shape-rendering="crispEdges"/>
<text transform="translate(48.43,545.10) scale(0.9300,1)" font-size="9.3" fill="#3d3d3d" stroke="#3d3d3d" stroke-width="0.24">0</text>
<line x1="56.50" y1="523.72" x2="59.50" y2="523.72" stroke="#1a1a1a" stroke-width="1.1"  shape-rendering="crispEdges"/>
<text transform="translate(38.81,526.92) scale(0.9300,1)" font-size="9.3" fill="#3d3d3d" stroke="#3d3d3d" stroke-width="0.24">100</text>
<line x1="56.50" y1="505.54" x2="59.50" y2="505.54" stroke="#1a1a1a" stroke-width="1.1"  shape-rendering="crispEdges"/>
<text transform="translate(38.81,508.74) scale(0.9300,1)" font-size="9.3" fill="#3d3d3d" stroke="#3d3d3d" stroke-width="0.24">200</text>
<line x1="56.50" y1="487.36" x2="59.50" y2="487.36" stroke="#1a1a1a" stroke-width="1.1"  shape-rendering="crispEdges"/>
<text transform="translate(38.81,490.56) scale(0.9300,1)" font-size="9.3" fill="#3d3d3d" stroke="#3d3d3d" stroke-width="0.24">300</text>
<line x1="56.50" y1="469.18" x2="59.50" y2="469.18" stroke="#1a1a1a" stroke-width="1.1"  shape-rendering="crispEdges"/>
<text transform="translate(38.81,472.38) scale(0.9300,1)" font-size="9.3" fill="#3d3d3d" stroke="#3d3d3d" stroke-width="0.24">400</text>
<line x1="58.95" y1="541.90" x2="171.86" y2="541.90" stroke="#1a1a1a" stroke-width="1.1"  shape-rendering="crispEdges"/>
<line x1="59.30" y1="541.90" x2="59.30" y2="544.90" stroke="#1a1a1a" stroke-width="1.0"  shape-rendering="crispEdges"/>
<text transform="translate(56.89,556.10) scale(0.9300,1)" font-size="9.3" fill="#3d3d3d" stroke="#3d3d3d" stroke-width="0.24">0</text>
<line x1="86.62" y1="541.90" x2="86.62" y2="544.90" stroke="#1a1a1a" stroke-width="1.0"  shape-rendering="crispEdges"/>
<text transform="translate(81.76,556.10) scale(0.9300,1)" font-size="9.3" fill="#3d3d3d" stroke="#3d3d3d" stroke-width="0.24">20</text>
<line x1="113.94" y1="541.90" x2="113.94" y2="544.90" stroke="#1a1a1a" stroke-width="1.0"  shape-rendering="crispEdges"/>
<text transform="translate(109.20,556.10) scale(0.9300,1)" font-size="9.3" fill="#3d3d3d" stroke="#3d3d3d" stroke-width="0.24">40</text>
<line x1="141.26" y1="541.90" x2="141.26" y2="544.90" stroke="#1a1a1a" stroke-width="1.0"  shape-rendering="crispEdges"/>
<text transform="translate(136.40,556.10) scale(0.9300,1)" font-size="9.3" fill="#3d3d3d" stroke="#3d3d3d" stroke-width="0.24">60</text>
<line x1="168.58" y1="541.90" x2="168.58" y2="544.90" stroke="#1a1a1a" stroke-width="1.0"  shape-rendering="crispEdges"/>
<text transform="translate(163.75,556.10) scale(0.9300,1)" font-size="9.3" fill="#3d3d3d" stroke="#3d3d3d" stroke-width="0.24">80</text>
<text transform="translate(96.41,570.60) scale(0.8077,1)" font-size="10.5" fill="#3d3d3d" stroke="#3d3d3d" stroke-width="0.24">Time (min)</text>
<text transform="translate(32.00,536.60) rotate(-90) translate(-0.38,0) scale(0.7339,1)" font-size="11.0" fill="#3d3d3d" stroke="#3d3d3d" stroke-width="0.24"><tspan>OCR (pmol O</tspan><tspan font-size="7.48" dy="2.42">2</tspan><tspan dy="-2.42">/min)</tspan></text>
<polyline points="60.12,539.17 69.27,539.54 78.42,539.17 87.58,540.45 96.46,540.08 105.33,540.08 114.49,538.26 123.37,538.26 132.24,538.26 141.26,540.99 150.55,540.99 159.56,540.99" fill="none" stroke="#44aa48" stroke-width="1.05" stroke-linejoin="round"/>
<line x1="60.12" y1="539.54" x2="60.12" y2="538.81" stroke="#44aa48" stroke-width="0.85" />
<line x1="58.42" y1="538.81" x2="61.82" y2="538.81" stroke="#44aa48" stroke-width="0.85" />
<line x1="58.42" y1="539.54" x2="61.82" y2="539.54" stroke="#44aa48" stroke-width="0.85" />
<line x1="69.27" y1="539.90" x2="69.27" y2="539.17" stroke="#44aa48" stroke-width="0.85" />
<line x1="67.57" y1="539.17" x2="70.97" y2="539.17" stroke="#44aa48" stroke-width="0.85" />
<line x1="67.57" y1="539.90" x2="70.97" y2="539.90" stroke="#44aa48" stroke-width="0.85" />
<line x1="78.42" y1="539.54" x2="78.42" y2="538.81" stroke="#44aa48" stroke-width="0.85" />
<line x1="76.72" y1="538.81" x2="80.12" y2="538.81" stroke="#44aa48" stroke-width="0.85" />
<line x1="76.72" y1="539.54" x2="80.12" y2="539.54" stroke="#44aa48" stroke-width="0.85" />
<line x1="87.58" y1="540.81" x2="87.58" y2="540.08" stroke="#44aa48" stroke-width="0.85" />
<line x1="85.88" y1="540.08" x2="89.28" y2="540.08" stroke="#44aa48" stroke-width="0.85" />
<line x1="85.88" y1="540.81" x2="89.28" y2="540.81" stroke="#44aa48" stroke-width="0.85" />
<line x1="96.46" y1="540.45" x2="96.46" y2="539.72" stroke="#44aa48" stroke-width="0.85" />
<line x1="94.76" y1="539.72" x2="98.16" y2="539.72" stroke="#44aa48" stroke-width="0.85" />
<line x1="94.76" y1="540.45" x2="98.16" y2="540.45" stroke="#44aa48" stroke-width="0.85" />
<line x1="105.33" y1="540.45" x2="105.33" y2="539.72" stroke="#44aa48" stroke-width="0.85" />
<line x1="103.63" y1="539.72" x2="107.03" y2="539.72" stroke="#44aa48" stroke-width="0.85" />
<line x1="103.63" y1="540.45" x2="107.03" y2="540.45" stroke="#44aa48" stroke-width="0.85" />
<line x1="114.49" y1="538.63" x2="114.49" y2="537.90" stroke="#44aa48" stroke-width="0.85" />
<line x1="112.79" y1="537.90" x2="116.19" y2="537.90" stroke="#44aa48" stroke-width="0.85" />
<line x1="112.79" y1="538.63" x2="116.19" y2="538.63" stroke="#44aa48" stroke-width="0.85" />
<line x1="123.37" y1="538.63" x2="123.37" y2="537.90" stroke="#44aa48" stroke-width="0.85" />
<line x1="121.67" y1="537.90" x2="125.07" y2="537.90" stroke="#44aa48" stroke-width="0.85" />
<line x1="121.67" y1="538.63" x2="125.07" y2="538.63" stroke="#44aa48" stroke-width="0.85" />
<line x1="132.24" y1="538.63" x2="132.24" y2="537.90" stroke="#44aa48" stroke-width="0.85" />
<line x1="130.54" y1="537.90" x2="133.94" y2="537.90" stroke="#44aa48" stroke-width="0.85" />
<line x1="130.54" y1="538.63" x2="133.94" y2="538.63" stroke="#44aa48" stroke-width="0.85" />
<line x1="141.26" y1="541.35" x2="141.26" y2="540.63" stroke="#44aa48" stroke-width="0.85" />
<line x1="139.56" y1="540.63" x2="142.96" y2="540.63" stroke="#44aa48" stroke-width="0.85" />
<line x1="139.56" y1="541.35" x2="142.96" y2="541.35" stroke="#44aa48" stroke-width="0.85" />
<line x1="150.55" y1="541.35" x2="150.55" y2="540.63" stroke="#44aa48" stroke-width="0.85" />
<line x1="148.85" y1="540.63" x2="152.25" y2="540.63" stroke="#44aa48" stroke-width="0.85" />
<line x1="148.85" y1="541.35" x2="152.25" y2="541.35" stroke="#44aa48" stroke-width="0.85" />
<line x1="159.56" y1="541.35" x2="159.56" y2="540.63" stroke="#44aa48" stroke-width="0.85" />
<line x1="157.86" y1="540.63" x2="161.26" y2="540.63" stroke="#44aa48" stroke-width="0.85" />
<line x1="157.86" y1="541.35" x2="161.26" y2="541.35" stroke="#44aa48" stroke-width="0.85" />
<circle cx="60.12" cy="539.17" r="1.45" fill="#44aa48"/>
<circle cx="69.27" cy="539.54" r="1.45" fill="#44aa48"/>
<circle cx="78.42" cy="539.17" r="1.45" fill="#44aa48"/>
<circle cx="87.58" cy="540.45" r="1.45" fill="#44aa48"/>
<circle cx="96.46" cy="540.08" r="1.45" fill="#44aa48"/>
<circle cx="105.33" cy="540.08" r="1.45" fill="#44aa48"/>
<circle cx="114.49" cy="538.26" r="1.45" fill="#44aa48"/>
<circle cx="123.37" cy="538.26" r="1.45" fill="#44aa48"/>
<circle cx="132.24" cy="538.26" r="1.45" fill="#44aa48"/>
<circle cx="141.26" cy="540.99" r="1.45" fill="#44aa48"/>
<circle cx="150.55" cy="540.99" r="1.45" fill="#44aa48"/>
<circle cx="159.56" cy="540.99" r="1.45" fill="#44aa48"/>
<polyline points="60.12,527.72 69.27,528.26 78.42,528.26 87.58,535.54 96.46,536.45 105.33,536.81 114.49,516.45 123.37,518.63 132.24,520.08 141.26,538.63 150.55,538.63 159.56,538.63" fill="none" stroke="#e8157d" stroke-width="1.05" stroke-linejoin="round"/>
<line x1="60.12" y1="528.26" x2="60.12" y2="527.17" stroke="#e8157d" stroke-width="0.85" />
<line x1="58.42" y1="527.17" x2="61.82" y2="527.17" stroke="#e8157d" stroke-width="0.85" />
<line x1="58.42" y1="528.26" x2="61.82" y2="528.26" stroke="#e8157d" stroke-width="0.85" />
<line x1="69.27" y1="528.81" x2="69.27" y2="527.72" stroke="#e8157d" stroke-width="0.85" />
<line x1="67.57" y1="527.72" x2="70.97" y2="527.72" stroke="#e8157d" stroke-width="0.85" />
<line x1="67.57" y1="528.81" x2="70.97" y2="528.81" stroke="#e8157d" stroke-width="0.85" />
<line x1="78.42" y1="528.81" x2="78.42" y2="527.72" stroke="#e8157d" stroke-width="0.85" />
<line x1="76.72" y1="527.72" x2="80.12" y2="527.72" stroke="#e8157d" stroke-width="0.85" />
<line x1="76.72" y1="528.81" x2="80.12" y2="528.81" stroke="#e8157d" stroke-width="0.85" />
<line x1="87.58" y1="536.08" x2="87.58" y2="534.99" stroke="#e8157d" stroke-width="0.85" />
<line x1="85.88" y1="534.99" x2="89.28" y2="534.99" stroke="#e8157d" stroke-width="0.85" />
<line x1="85.88" y1="536.08" x2="89.28" y2="536.08" stroke="#e8157d" stroke-width="0.85" />
<line x1="96.46" y1="536.99" x2="96.46" y2="535.90" stroke="#e8157d" stroke-width="0.85" />
<line x1="94.76" y1="535.90" x2="98.16" y2="535.90" stroke="#e8157d" stroke-width="0.85" />
<line x1="94.76" y1="536.99" x2="98.16" y2="536.99" stroke="#e8157d" stroke-width="0.85" />
<line x1="105.33" y1="537.35" x2="105.33" y2="536.26" stroke="#e8157d" stroke-width="0.85" />
<line x1="103.63" y1="536.26" x2="107.03" y2="536.26" stroke="#e8157d" stroke-width="0.85" />
<line x1="103.63" y1="537.35" x2="107.03" y2="537.35" stroke="#e8157d" stroke-width="0.85" />
<line x1="114.49" y1="516.99" x2="114.49" y2="515.90" stroke="#e8157d" stroke-width="0.85" />
<line x1="112.79" y1="515.90" x2="116.19" y2="515.90" stroke="#e8157d" stroke-width="0.85" />
<line x1="112.79" y1="516.99" x2="116.19" y2="516.99" stroke="#e8157d" stroke-width="0.85" />
<line x1="123.37" y1="519.17" x2="123.37" y2="518.08" stroke="#e8157d" stroke-width="0.85" />
<line x1="121.67" y1="518.08" x2="125.07" y2="518.08" stroke="#e8157d" stroke-width="0.85" />
<line x1="121.67" y1="519.17" x2="125.07" y2="519.17" stroke="#e8157d" stroke-width="0.85" />
<line x1="132.24" y1="520.63" x2="132.24" y2="519.54" stroke="#e8157d" stroke-width="0.85" />
<line x1="130.54" y1="519.54" x2="133.94" y2="519.54" stroke="#e8157d" stroke-width="0.85" />
<line x1="130.54" y1="520.63" x2="133.94" y2="520.63" stroke="#e8157d" stroke-width="0.85" />
<line x1="141.26" y1="539.17" x2="141.26" y2="538.08" stroke="#e8157d" stroke-width="0.85" />
<line x1="139.56" y1="538.08" x2="142.96" y2="538.08" stroke="#e8157d" stroke-width="0.85" />
<line x1="139.56" y1="539.17" x2="142.96" y2="539.17" stroke="#e8157d" stroke-width="0.85" />
<line x1="150.55" y1="539.17" x2="150.55" y2="538.08" stroke="#e8157d" stroke-width="0.85" />
<line x1="148.85" y1="538.08" x2="152.25" y2="538.08" stroke="#e8157d" stroke-width="0.85" />
<line x1="148.85" y1="539.17" x2="152.25" y2="539.17" stroke="#e8157d" stroke-width="0.85" />
<line x1="159.56" y1="539.17" x2="159.56" y2="538.08" stroke="#e8157d" stroke-width="0.85" />
<line x1="157.86" y1="538.08" x2="161.26" y2="538.08" stroke="#e8157d" stroke-width="0.85" />
<line x1="157.86" y1="539.17" x2="161.26" y2="539.17" stroke="#e8157d" stroke-width="0.85" />
<circle cx="60.12" cy="527.72" r="1.45" fill="#e8157d"/>
<circle cx="69.27" cy="528.26" r="1.45" fill="#e8157d"/>
<circle cx="78.42" cy="528.26" r="1.45" fill="#e8157d"/>
<circle cx="87.58" cy="535.54" r="1.45" fill="#e8157d"/>
<circle cx="96.46" cy="536.45" r="1.45" fill="#e8157d"/>
<circle cx="105.33" cy="536.81" r="1.45" fill="#e8157d"/>
<circle cx="114.49" cy="516.45" r="1.45" fill="#e8157d"/>
<circle cx="123.37" cy="518.63" r="1.45" fill="#e8157d"/>
<circle cx="132.24" cy="520.08" r="1.45" fill="#e8157d"/>
<circle cx="141.26" cy="538.63" r="1.45" fill="#e8157d"/>
<circle cx="150.55" cy="538.63" r="1.45" fill="#e8157d"/>
<circle cx="159.56" cy="538.63" r="1.45" fill="#e8157d"/>
<polyline points="60.12,520.99 69.27,522.81 78.42,523.17 87.58,532.45 96.46,534.26 105.33,534.63 114.49,490.09 123.37,494.27 132.24,498.27 141.26,537.36 150.55,538.26 159.56,537.90" fill="none" stroke="#29a6df" stroke-width="1.05" stroke-linejoin="round"/>
<line x1="60.12" y1="521.54" x2="60.12" y2="520.45" stroke="#29a6df" stroke-width="0.85" />
<line x1="58.42" y1="520.45" x2="61.82" y2="520.45" stroke="#29a6df" stroke-width="0.85" />
<line x1="58.42" y1="521.54" x2="61.82" y2="521.54" stroke="#29a6df" stroke-width="0.85" />
<line x1="69.27" y1="523.36" x2="69.27" y2="522.27" stroke="#29a6df" stroke-width="0.85" />
<line x1="67.57" y1="522.27" x2="70.97" y2="522.27" stroke="#29a6df" stroke-width="0.85" />
<line x1="67.57" y1="523.36" x2="70.97" y2="523.36" stroke="#29a6df" stroke-width="0.85" />
<line x1="78.42" y1="523.72" x2="78.42" y2="522.63" stroke="#29a6df" stroke-width="0.85" />
<line x1="76.72" y1="522.63" x2="80.12" y2="522.63" stroke="#29a6df" stroke-width="0.85" />
<line x1="76.72" y1="523.72" x2="80.12" y2="523.72" stroke="#29a6df" stroke-width="0.85" />
<line x1="87.58" y1="532.99" x2="87.58" y2="531.90" stroke="#29a6df" stroke-width="0.85" />
<line x1="85.88" y1="531.90" x2="89.28" y2="531.90" stroke="#29a6df" stroke-width="0.85" />
<line x1="85.88" y1="532.99" x2="89.28" y2="532.99" stroke="#29a6df" stroke-width="0.85" />
<line x1="96.46" y1="534.81" x2="96.46" y2="533.72" stroke="#29a6df" stroke-width="0.85" />
<line x1="94.76" y1="533.72" x2="98.16" y2="533.72" stroke="#29a6df" stroke-width="0.85" />
<line x1="94.76" y1="534.81" x2="98.16" y2="534.81" stroke="#29a6df" stroke-width="0.85" />
<line x1="105.33" y1="535.17" x2="105.33" y2="534.08" stroke="#29a6df" stroke-width="0.85" />
<line x1="103.63" y1="534.08" x2="107.03" y2="534.08" stroke="#29a6df" stroke-width="0.85" />
<line x1="103.63" y1="535.17" x2="107.03" y2="535.17" stroke="#29a6df" stroke-width="0.85" />
<line x1="114.49" y1="493.72" x2="114.49" y2="486.45" stroke="#29a6df" stroke-width="0.85" />
<line x1="112.79" y1="486.45" x2="116.19" y2="486.45" stroke="#29a6df" stroke-width="0.85" />
<line x1="112.79" y1="493.72" x2="116.19" y2="493.72" stroke="#29a6df" stroke-width="0.85" />
<line x1="123.37" y1="497.00" x2="123.37" y2="491.54" stroke="#29a6df" stroke-width="0.85" />
<line x1="121.67" y1="491.54" x2="125.07" y2="491.54" stroke="#29a6df" stroke-width="0.85" />
<line x1="121.67" y1="497.00" x2="125.07" y2="497.00" stroke="#29a6df" stroke-width="0.85" />
<line x1="132.24" y1="500.45" x2="132.24" y2="496.09" stroke="#29a6df" stroke-width="0.85" />
<line x1="130.54" y1="496.09" x2="133.94" y2="496.09" stroke="#29a6df" stroke-width="0.85" />
<line x1="130.54" y1="500.45" x2="133.94" y2="500.45" stroke="#29a6df" stroke-width="0.85" />
<line x1="141.26" y1="537.72" x2="141.26" y2="536.99" stroke="#29a6df" stroke-width="0.85" />
<line x1="139.56" y1="536.99" x2="142.96" y2="536.99" stroke="#29a6df" stroke-width="0.85" />
<line x1="139.56" y1="537.72" x2="142.96" y2="537.72" stroke="#29a6df" stroke-width="0.85" />
<line x1="150.55" y1="538.63" x2="150.55" y2="537.90" stroke="#29a6df" stroke-width="0.85" />
<line x1="148.85" y1="537.90" x2="152.25" y2="537.90" stroke="#29a6df" stroke-width="0.85" />
<line x1="148.85" y1="538.63" x2="152.25" y2="538.63" stroke="#29a6df" stroke-width="0.85" />
<line x1="159.56" y1="538.26" x2="159.56" y2="537.54" stroke="#29a6df" stroke-width="0.85" />
<line x1="157.86" y1="537.54" x2="161.26" y2="537.54" stroke="#29a6df" stroke-width="0.85" />
<line x1="157.86" y1="538.26" x2="161.26" y2="538.26" stroke="#29a6df" stroke-width="0.85" />
<circle cx="60.12" cy="520.99" r="1.45" fill="#29a6df"/>
<circle cx="69.27" cy="522.81" r="1.45" fill="#29a6df"/>
<circle cx="78.42" cy="523.17" r="1.45" fill="#29a6df"/>
<circle cx="87.58" cy="532.45" r="1.45" fill="#29a6df"/>
<circle cx="96.46" cy="534.26" r="1.45" fill="#29a6df"/>
<circle cx="105.33" cy="534.63" r="1.45" fill="#29a6df"/>
<circle cx="114.49" cy="490.09" r="1.45" fill="#29a6df"/>
<circle cx="123.37" cy="494.27" r="1.45" fill="#29a6df"/>
<circle cx="132.24" cy="498.27" r="1.45" fill="#29a6df"/>
<circle cx="141.26" cy="537.36" r="1.45" fill="#29a6df"/>
<circle cx="150.55" cy="538.26" r="1.45" fill="#29a6df"/>
<circle cx="159.56" cy="537.90" r="1.45" fill="#29a6df"/>
<polyline points="60.12,516.45 69.27,519.17 78.42,519.72 87.58,530.99 96.46,532.81 105.33,533.36 114.49,485.54 123.37,492.81 132.24,499.18 141.26,537.36 150.55,537.90 159.56,537.36" fill="none" stroke="#4a5069" stroke-width="1.05" stroke-linejoin="round"/>
<line x1="60.12" y1="516.99" x2="60.12" y2="515.90" stroke="#4a5069" stroke-width="0.85" />
<line x1="58.42" y1="515.90" x2="61.82" y2="515.90" stroke="#4a5069" stroke-width="0.85" />
<line x1="58.42" y1="516.99" x2="61.82" y2="516.99" stroke="#4a5069" stroke-width="0.85" />
<line x1="69.27" y1="519.72" x2="69.27" y2="518.63" stroke="#4a5069" stroke-width="0.85" />
<line x1="67.57" y1="518.63" x2="70.97" y2="518.63" stroke="#4a5069" stroke-width="0.85" />
<line x1="67.57" y1="519.72" x2="70.97" y2="519.72" stroke="#4a5069" stroke-width="0.85" />
<line x1="78.42" y1="520.27" x2="78.42" y2="519.17" stroke="#4a5069" stroke-width="0.85" />
<line x1="76.72" y1="519.17" x2="80.12" y2="519.17" stroke="#4a5069" stroke-width="0.85" />
<line x1="76.72" y1="520.27" x2="80.12" y2="520.27" stroke="#4a5069" stroke-width="0.85" />
<line x1="87.58" y1="531.54" x2="87.58" y2="530.45" stroke="#4a5069" stroke-width="0.85" />
<line x1="85.88" y1="530.45" x2="89.28" y2="530.45" stroke="#4a5069" stroke-width="0.85" />
<line x1="85.88" y1="531.54" x2="89.28" y2="531.54" stroke="#4a5069" stroke-width="0.85" />
<line x1="96.46" y1="533.36" x2="96.46" y2="532.26" stroke="#4a5069" stroke-width="0.85" />
<line x1="94.76" y1="532.26" x2="98.16" y2="532.26" stroke="#4a5069" stroke-width="0.85" />
<line x1="94.76" y1="533.36" x2="98.16" y2="533.36" stroke="#4a5069" stroke-width="0.85" />
<line x1="105.33" y1="533.90" x2="105.33" y2="532.81" stroke="#4a5069" stroke-width="0.85" />
<line x1="103.63" y1="532.81" x2="107.03" y2="532.81" stroke="#4a5069" stroke-width="0.85" />
<line x1="103.63" y1="533.90" x2="107.03" y2="533.90" stroke="#4a5069" stroke-width="0.85" />
<line x1="114.49" y1="488.27" x2="114.49" y2="482.81" stroke="#4a5069" stroke-width="0.85" />
<line x1="112.79" y1="482.81" x2="116.19" y2="482.81" stroke="#4a5069" stroke-width="0.85" />
<line x1="112.79" y1="488.27" x2="116.19" y2="488.27" stroke="#4a5069" stroke-width="0.85" />
<line x1="123.37" y1="495.54" x2="123.37" y2="490.09" stroke="#4a5069" stroke-width="0.85" />
<line x1="121.67" y1="490.09" x2="125.07" y2="490.09" stroke="#4a5069" stroke-width="0.85" />
<line x1="121.67" y1="495.54" x2="125.07" y2="495.54" stroke="#4a5069" stroke-width="0.85" />
<line x1="132.24" y1="501.36" x2="132.24" y2="497.00" stroke="#4a5069" stroke-width="0.85" />
<line x1="130.54" y1="497.00" x2="133.94" y2="497.00" stroke="#4a5069" stroke-width="0.85" />
<line x1="130.54" y1="501.36" x2="133.94" y2="501.36" stroke="#4a5069" stroke-width="0.85" />
<line x1="141.26" y1="537.72" x2="141.26" y2="536.99" stroke="#4a5069" stroke-width="0.85" />
<line x1="139.56" y1="536.99" x2="142.96" y2="536.99" stroke="#4a5069" stroke-width="0.85" />
<line x1="139.56" y1="537.72" x2="142.96" y2="537.72" stroke="#4a5069" stroke-width="0.85" />
<line x1="150.55" y1="538.26" x2="150.55" y2="537.54" stroke="#4a5069" stroke-width="0.85" />
<line x1="148.85" y1="537.54" x2="152.25" y2="537.54" stroke="#4a5069" stroke-width="0.85" />
<line x1="148.85" y1="538.26" x2="152.25" y2="538.26" stroke="#4a5069" stroke-width="0.85" />
<line x1="159.56" y1="537.72" x2="159.56" y2="536.99" stroke="#4a5069" stroke-width="0.85" />
<line x1="157.86" y1="536.99" x2="161.26" y2="536.99" stroke="#4a5069" stroke-width="0.85" />
<line x1="157.86" y1="537.72" x2="161.26" y2="537.72" stroke="#4a5069" stroke-width="0.85" />
<circle cx="60.12" cy="516.45" r="1.45" fill="#4a5069"/>
<circle cx="69.27" cy="519.17" r="1.45" fill="#4a5069"/>
<circle cx="78.42" cy="519.72" r="1.45" fill="#4a5069"/>
<circle cx="87.58" cy="530.99" r="1.45" fill="#4a5069"/>
<circle cx="96.46" cy="532.81" r="1.45" fill="#4a5069"/>
<circle cx="105.33" cy="533.36" r="1.45" fill="#4a5069"/>
<circle cx="114.49" cy="485.54" r="1.45" fill="#4a5069"/>
<circle cx="123.37" cy="492.81" r="1.45" fill="#4a5069"/>
<circle cx="132.24" cy="499.18" r="1.45" fill="#4a5069"/>
<circle cx="141.26" cy="537.36" r="1.45" fill="#4a5069"/>
<circle cx="150.55" cy="537.90" r="1.45" fill="#4a5069"/>
<circle cx="159.56" cy="537.36" r="1.45" fill="#4a5069"/>
<text transform="translate(61.06,494.00)" font-size="9.2" fill="#3d3d3d" stroke="#3d3d3d" stroke-width="0.24">Oligomycin</text>
<line x1="79.25" y1="496.50" x2="79.25" y2="512.00" stroke="#222" stroke-width="1.0" />
<polygon points="77.25,509.40 81.25,509.40 79.25,514.00" fill="#222"/>
<text transform="translate(95.78,459.10) scale(0.9748,1)" font-size="9.0" fill="#3d3d3d" stroke="#3d3d3d" stroke-width="0.24">FCCP</text>
<line x1="107.60" y1="464.30" x2="107.60" y2="480.50" stroke="#222" stroke-width="1.0" />
<polygon points="105.60,477.90 109.60,477.90 107.60,482.50" fill="#222"/>
<text transform="translate(114.93,472.50) scale(1.0465,1)" font-size="9.0" fill="#3d3d3d" stroke="#3d3d3d" stroke-width="0.24">Rot/AntA</text>
<line x1="133.40" y1="474.80" x2="133.40" y2="487.30" stroke="#222" stroke-width="1.0" />
<polygon points="131.40,484.70 135.40,484.70 133.40,489.30" fill="#222"/>
<line x1="149.40" y1="486.20" x2="157.10" y2="486.20" stroke="#4a5069" stroke-width="1.1" />
<circle cx="153.25" cy="486.20" r="1.35" fill="#4a5069"/>
<text transform="translate(159.81,488.90) scale(0.8669,1)" font-size="8.9" fill="#4a5064" stroke="#4a5064" stroke-width="0.24">CTRL</text>
<line x1="149.40" y1="495.80" x2="157.10" y2="495.80" stroke="#44aa48" stroke-width="1.1" />
<circle cx="153.25" cy="495.80" r="1.35" fill="#44aa48"/>
<text transform="translate(160.00,498.30) scale(0.8848,1)" font-size="8.9" fill="#52a852" stroke="#52a852" stroke-width="0.24">GC7</text>
<line x1="149.40" y1="504.40" x2="157.10" y2="504.40" stroke="#29a6df" stroke-width="1.1" />
<circle cx="153.25" cy="504.40" r="1.35" fill="#29a6df"/>
<text transform="translate(160.06,507.00) scale(0.8533,1)" font-size="8.9" fill="#4aa6d8" stroke="#4aa6d8" stroke-width="0.24">SUC</text>
<line x1="149.40" y1="512.40" x2="157.10" y2="512.40" stroke="#e8157d" stroke-width="1.1" />
<circle cx="153.25" cy="512.40" r="1.35" fill="#e8157d"/>
<text transform="translate(159.99,515.00) scale(0.9204,1)" font-size="8.9" fill="#cf2f7c" stroke="#cf2f7c" stroke-width="0.24">GC7+SUC</text>
<rect x="242.40" y="215.34" width="11.50" height="44.56" fill="#c9c8cd" />
<rect x="259.30" y="256.25" width="10.60" height="3.65" fill="#44aa48" />
<line x1="248.15" y1="222.89" x2="248.15" y2="207.30" stroke="#111" stroke-width="0.95" />
<line x1="245.65" y1="207.30" x2="250.65" y2="207.30" stroke="#111" stroke-width="0.95" />
<line x1="245.65" y1="222.89" x2="250.65" y2="222.89" stroke="#111" stroke-width="0.95" />
<circle cx="248.15" cy="191.72" r="1.4" fill="#111"/>
<circle cx="243.75" cy="220.45" r="1.4" fill="#111"/>
<circle cx="252.15" cy="220.45" r="1.4" fill="#111"/>
<circle cx="248.15" cy="227.27" r="1.4" fill="#111"/>
<line x1="264.60" y1="256.73" x2="264.60" y2="255.76" stroke="#111" stroke-width="0.95" />
<line x1="262.10" y1="255.76" x2="267.10" y2="255.76" stroke="#111" stroke-width="0.95" />
<line x1="262.10" y1="256.73" x2="267.10" y2="256.73" stroke="#111" stroke-width="0.95" />
<circle cx="261.10" cy="256.25" r="1.4" fill="#111"/>
<circle cx="263.40" cy="256.00" r="1.4" fill="#111"/>
<circle cx="265.80" cy="256.00" r="1.4" fill="#111"/>
<circle cx="268.10" cy="256.25" r="1.4" fill="#111"/>
<line x1="239.50" y1="183.10" x2="239.50" y2="260.45" stroke="#1a1a1a" stroke-width="1.1"  shape-rendering="crispEdges"/>
<line x1="236.50" y1="259.90" x2="239.50" y2="259.90" stroke="#1a1a1a" stroke-width="1.1"  shape-rendering="crispEdges"/>
<text transform="translate(228.43,263.10) scale(0.9300,1)" font-size="9.3" fill="#3d3d3d" stroke="#3d3d3d" stroke-width="0.24">0</text>
<line x1="236.50" y1="245.29" x2="239.50" y2="245.29" stroke="#1a1a1a" stroke-width="1.1"  shape-rendering="crispEdges"/>
<text transform="translate(223.62,248.49) scale(0.9300,1)" font-size="9.3" fill="#3d3d3d" stroke="#3d3d3d" stroke-width="0.24">60</text>
<line x1="236.50" y1="230.68" x2="239.50" y2="230.68" stroke="#1a1a1a" stroke-width="1.1"  shape-rendering="crispEdges"/>
<text transform="translate(218.81,233.88) scale(0.9300,1)" font-size="9.3" fill="#3d3d3d" stroke="#3d3d3d" stroke-width="0.24">120</text>
<line x1="236.50" y1="216.07" x2="239.50" y2="216.07" stroke="#1a1a1a" stroke-width="1.1"  shape-rendering="crispEdges"/>
<text transform="translate(218.81,219.27) scale(0.9300,1)" font-size="9.3" fill="#3d3d3d" stroke="#3d3d3d" stroke-width="0.24">180</text>
<line x1="236.50" y1="201.46" x2="239.50" y2="201.46" stroke="#1a1a1a" stroke-width="1.1"  shape-rendering="crispEdges"/>
<text transform="translate(218.81,204.66) scale(0.9300,1)" font-size="9.3" fill="#3d3d3d" stroke="#3d3d3d" stroke-width="0.24">240</text>
<line x1="236.50" y1="186.85" x2="239.50" y2="186.85" stroke="#1a1a1a" stroke-width="1.1"  shape-rendering="crispEdges"/>
<text transform="translate(218.81,190.05) scale(0.9300,1)" font-size="9.3" fill="#3d3d3d" stroke="#3d3d3d" stroke-width="0.24">300</text>
<line x1="238.95" y1="259.90" x2="273.00" y2="259.90" stroke="#1a1a1a" stroke-width="1.1"  shape-rendering="crispEdges"/>
<line x1="248.10" y1="259.90" x2="248.10" y2="262.70" stroke="#1a1a1a" stroke-width="1.0"  shape-rendering="crispEdges"/>
<line x1="264.70" y1="259.90" x2="264.70" y2="262.70" stroke="#1a1a1a" stroke-width="1.0"  shape-rendering="crispEdges"/>
<polyline points="248.10,186.20 248.10,182.00 262.00,182.00 262.00,186.20" fill="none" stroke="#1a1a1a" stroke-width="1.0" shape-rendering="crispEdges"/>
<text transform="translate(253.41,182.59) scale(0.9760,1)" font-size="8.6" fill="#1a1a1a" stroke="#1a1a1a" stroke-width="0.24">*</text>
<text transform="translate(212.50,257.40) rotate(-90) translate(-0.40,0) scale(0.7605,1)" font-size="11.0" fill="#3d3d3d" stroke="#3d3d3d" stroke-width="0.24"><tspan>OCR (pmol O</tspan><tspan font-size="7.48" dy="2.42">2</tspan><tspan dy="-2.42">/min)</tspan></text>
<text transform="translate(217.05,274.10) scale(1.0045,1)" font-size="8.9" fill="#3d3d3d" stroke="#3d3d3d" stroke-width="0.24">GC7:</text>
<text transform="translate(245.60,273.99)" font-size="9.0" fill="#3d3d3d" stroke="#3d3d3d" stroke-width="0.24">–</text>
<text transform="translate(262.07,274.60)" font-size="9.0" fill="#3d3d3d" stroke="#3d3d3d" stroke-width="0.24">+</text>
<rect x="316.10" y="206.57" width="10.80" height="53.33" fill="#c9c8cd" />
<rect x="333.00" y="257.46" width="10.60" height="2.44" fill="#44aa48" />
<line x1="321.50" y1="209.98" x2="321.50" y2="202.68" stroke="#111" stroke-width="0.95" />
<line x1="319.00" y1="202.68" x2="324.00" y2="202.68" stroke="#111" stroke-width="0.95" />
<line x1="319.00" y1="209.98" x2="324.00" y2="209.98" stroke="#111" stroke-width="0.95" />
<circle cx="321.50" cy="197.08" r="1.4" fill="#111"/>
<circle cx="317.10" cy="209.50" r="1.4" fill="#111"/>
<circle cx="325.90" cy="208.76" r="1.4" fill="#111"/>
<circle cx="321.50" cy="207.55" r="1.4" fill="#111"/>
<line x1="338.30" y1="258.20" x2="338.30" y2="256.73" stroke="#111" stroke-width="0.95" />
<line x1="335.80" y1="256.73" x2="340.80" y2="256.73" stroke="#111" stroke-width="0.95" />
<line x1="335.80" y1="258.20" x2="340.80" y2="258.20" stroke="#111" stroke-width="0.95" />
<circle cx="334.80" cy="257.71" r="1.4" fill="#111"/>
<circle cx="337.10" cy="257.22" r="1.4" fill="#111"/>
<circle cx="339.50" cy="256.73" r="1.4" fill="#111"/>
<circle cx="341.80" cy="257.46" r="1.4" fill="#111"/>
<line x1="313.50" y1="183.10" x2="313.50" y2="260.45" stroke="#1a1a1a" stroke-width="1.1"  shape-rendering="crispEdges"/>
<line x1="310.50" y1="259.90" x2="313.50" y2="259.90" stroke="#1a1a1a" stroke-width="1.1"  shape-rendering="crispEdges"/>
<text transform="translate(302.43,263.10) scale(0.9300,1)" font-size="9.3" fill="#3d3d3d" stroke="#3d3d3d" stroke-width="0.24">0</text>
<line x1="310.50" y1="245.29" x2="313.50" y2="245.29" stroke="#1a1a1a" stroke-width="1.1"  shape-rendering="crispEdges"/>
<text transform="translate(297.62,248.49) scale(0.9300,1)" font-size="9.3" fill="#3d3d3d" stroke="#3d3d3d" stroke-width="0.24">60</text>
<line x1="310.50" y1="230.68" x2="313.50" y2="230.68" stroke="#1a1a1a" stroke-width="1.1"  shape-rendering="crispEdges"/>
<text transform="translate(292.81,233.88) scale(0.9300,1)" font-size="9.3" fill="#3d3d3d" stroke="#3d3d3d" stroke-width="0.24">120</text>
<line x1="310.50" y1="216.07" x2="313.50" y2="216.07" stroke="#1a1a1a" stroke-width="1.1"  shape-rendering="crispEdges"/>
<text transform="translate(292.81,219.27) scale(0.9300,1)" font-size="9.3" fill="#3d3d3d" stroke="#3d3d3d" stroke-width="0.24">180</text>
<line x1="310.50" y1="201.46" x2="313.50" y2="201.46" stroke="#1a1a1a" stroke-width="1.1"  shape-rendering="crispEdges"/>
<text transform="translate(292.81,204.66) scale(0.9300,1)" font-size="9.3" fill="#3d3d3d" stroke="#3d3d3d" stroke-width="0.24">240</text>
<line x1="310.50" y1="186.85" x2="313.50" y2="186.85" stroke="#1a1a1a" stroke-width="1.1"  shape-rendering="crispEdges"/>
<text transform="translate(292.81,190.05) scale(0.9300,1)" font-size="9.3" fill="#3d3d3d" stroke="#3d3d3d" stroke-width="0.24">300</text>
<line x1="312.95" y1="259.90" x2="346.00" y2="259.90" stroke="#1a1a1a" stroke-width="1.1"  shape-rendering="crispEdges"/>
<line x1="321.50" y1="259.90" x2="321.50" y2="262.70" stroke="#1a1a1a" stroke-width="1.0"  shape-rendering="crispEdges"/>
<line x1="338.20" y1="259.90" x2="338.20" y2="262.70" stroke="#1a1a1a" stroke-width="1.0"  shape-rendering="crispEdges"/>
<polyline points="321.60,190.80 321.60,186.40 337.00,186.40 337.00,190.80" fill="none" stroke="#1a1a1a" stroke-width="1.0" shape-rendering="crispEdges"/>
<text transform="translate(323.49,187.39) scale(1.1569,1)" font-size="8.6" fill="#1a1a1a" stroke="#1a1a1a" stroke-width="0.24">***</text>
<text transform="translate(286.50,256.50) rotate(-90) translate(-0.37,0) scale(0.7488,1)" font-size="11.0" fill="#3d3d3d" stroke="#3d3d3d" stroke-width="0.24"><tspan>SRC (pmol O</tspan><tspan font-size="7.48" dy="2.42">2</tspan><tspan dy="-2.42">/min)</tspan></text>
<text transform="translate(319.00,273.99)" font-size="9.0" fill="#3d3d3d" stroke="#3d3d3d" stroke-width="0.24">–</text>
<text transform="translate(335.57,274.60)" font-size="9.0" fill="#3d3d3d" stroke="#3d3d3d" stroke-width="0.24">+</text>
<rect x="240.50" y="367.08" width="10.80" height="34.42" fill="#c9c8cd" />
<rect x="256.50" y="376.23" width="10.80" height="25.27" fill="#f29111" />
<line x1="245.90" y1="377.43" x2="245.90" y2="355.77" stroke="#111" stroke-width="0.95" />
<line x1="243.40" y1="355.77" x2="248.40" y2="355.77" stroke="#111" stroke-width="0.95" />
<line x1="243.40" y1="377.43" x2="248.40" y2="377.43" stroke="#111" stroke-width="0.95" />
<circle cx="245.90" cy="335.31" r="1.4" fill="#111"/>
<circle cx="245.90" cy="367.80" r="1.4" fill="#111"/>
<circle cx="245.90" cy="385.85" r="1.4" fill="#111"/>
<line x1="261.90" y1="384.17" x2="261.90" y2="367.80" stroke="#111" stroke-width="0.95" />
<line x1="259.40" y1="367.80" x2="264.40" y2="367.80" stroke="#111" stroke-width="0.95" />
<line x1="259.40" y1="384.17" x2="264.40" y2="384.17" stroke="#111" stroke-width="0.95" />
<circle cx="261.90" cy="350.95" r="1.4" fill="#111"/>
<circle cx="261.90" cy="379.84" r="1.4" fill="#111"/>
<circle cx="257.70" cy="388.98" r="1.4" fill="#111"/>
<circle cx="266.10" cy="388.98" r="1.4" fill="#111"/>
<line x1="237.80" y1="326.50" x2="237.80" y2="402.05" stroke="#1a1a1a" stroke-width="1.1"  shape-rendering="crispEdges"/>
<line x1="234.80" y1="401.50" x2="237.80" y2="401.50" stroke="#1a1a1a" stroke-width="1.1"  shape-rendering="crispEdges"/>
<text transform="translate(226.73,404.70) scale(0.9300,1)" font-size="9.3" fill="#3d3d3d" stroke="#3d3d3d" stroke-width="0.24">0</text>
<line x1="234.80" y1="387.06" x2="237.80" y2="387.06" stroke="#1a1a1a" stroke-width="1.1"  shape-rendering="crispEdges"/>
<text transform="translate(221.92,390.26) scale(0.9300,1)" font-size="9.3" fill="#3d3d3d" stroke="#3d3d3d" stroke-width="0.24">60</text>
<line x1="234.80" y1="372.62" x2="237.80" y2="372.62" stroke="#1a1a1a" stroke-width="1.1"  shape-rendering="crispEdges"/>
<text transform="translate(217.11,375.82) scale(0.9300,1)" font-size="9.3" fill="#3d3d3d" stroke="#3d3d3d" stroke-width="0.24">120</text>
<line x1="234.80" y1="358.17" x2="237.80" y2="358.17" stroke="#1a1a1a" stroke-width="1.1"  shape-rendering="crispEdges"/>
<text transform="translate(217.11,361.37) scale(0.9300,1)" font-size="9.3" fill="#3d3d3d" stroke="#3d3d3d" stroke-width="0.24">180</text>
<line x1="234.80" y1="343.73" x2="237.80" y2="343.73" stroke="#1a1a1a" stroke-width="1.1"  shape-rendering="crispEdges"/>
<text transform="translate(217.11,346.93) scale(0.9300,1)" font-size="9.3" fill="#3d3d3d" stroke="#3d3d3d" stroke-width="0.24">240</text>
<line x1="234.80" y1="329.29" x2="237.80" y2="329.29" stroke="#1a1a1a" stroke-width="1.1"  shape-rendering="crispEdges"/>
<text transform="translate(217.11,332.49) scale(0.9300,1)" font-size="9.3" fill="#3d3d3d" stroke="#3d3d3d" stroke-width="0.24">300</text>
<line x1="237.25" y1="401.50" x2="270.80" y2="401.50" stroke="#1a1a1a" stroke-width="1.1"  shape-rendering="crispEdges"/>
<line x1="245.60" y1="401.50" x2="245.60" y2="404.30" stroke="#1a1a1a" stroke-width="1.0"  shape-rendering="crispEdges"/>
<line x1="262.00" y1="401.50" x2="262.00" y2="404.30" stroke="#1a1a1a" stroke-width="1.0"  shape-rendering="crispEdges"/>
<polyline points="245.80,330.40 245.80,326.80 262.00,326.80 262.00,330.40" fill="none" stroke="#1a1a1a" stroke-width="1.0" shape-rendering="crispEdges"/>
<text transform="translate(252.26,326.99) scale(0.9760,1)" font-size="8.6" fill="#1a1a1a" stroke="#1a1a1a" stroke-width="0.24">*</text>
<text transform="translate(209.60,397.60) rotate(-90) translate(-0.39,0) scale(0.7445,1)" font-size="11.0" fill="#3d3d3d" stroke="#3d3d3d" stroke-width="0.24"><tspan>OCR (pmol O</tspan><tspan font-size="7.48" dy="2.42">2</tspan><tspan dy="-2.42">/min)</tspan></text>
<text transform="translate(248.70,410.80) rotate(-45) translate(-29.22,0) scale(0.9035,1)" font-size="8.9" fill="#3d3d3d" stroke="#3d3d3d" stroke-width="0.24">shCTRL</text>
<text transform="translate(264.60,410.90) rotate(-45) translate(-31.23,0) scale(0.9262,1)" font-size="8.9" fill="#3d3d3d" stroke="#3d3d3d" stroke-width="0.24">shDHPS</text>
<rect x="317.00" y="353.36" width="10.40" height="48.14" fill="#c9c8cd" />
<rect x="332.70" y="373.82" width="11.20" height="27.68" fill="#f29111" />
<line x1="322.20" y1="358.17" x2="322.20" y2="347.34" stroke="#111" stroke-width="0.95" />
<line x1="319.70" y1="347.34" x2="324.70" y2="347.34" stroke="#111" stroke-width="0.95" />
<line x1="319.70" y1="358.17" x2="324.70" y2="358.17" stroke="#111" stroke-width="0.95" />
<circle cx="322.20" cy="342.53" r="1.4" fill="#111"/>
<circle cx="322.20" cy="352.16" r="1.4" fill="#111"/>
<circle cx="321.20" cy="354.56" r="1.4" fill="#111"/>
<circle cx="322.20" cy="365.39" r="1.4" fill="#111"/>
<line x1="338.30" y1="380.32" x2="338.30" y2="366.60" stroke="#111" stroke-width="0.95" />
<line x1="335.80" y1="366.60" x2="340.80" y2="366.60" stroke="#111" stroke-width="0.95" />
<line x1="335.80" y1="380.32" x2="340.80" y2="380.32" stroke="#111" stroke-width="0.95" />
<circle cx="338.30" cy="361.06" r="1.4" fill="#111"/>
<circle cx="338.30" cy="378.63" r="1.4" fill="#111"/>
<circle cx="338.30" cy="391.87" r="1.4" fill="#111"/>
<circle cx="338.30" cy="372.62" r="1.4" fill="#111"/>
<line x1="313.40" y1="326.50" x2="313.40" y2="402.05" stroke="#1a1a1a" stroke-width="1.1"  shape-rendering="crispEdges"/>
<line x1="310.40" y1="401.50" x2="313.40" y2="401.50" stroke="#1a1a1a" stroke-width="1.1"  shape-rendering="crispEdges"/>
<text transform="translate(302.33,404.70) scale(0.9300,1)" font-size="9.3" fill="#3d3d3d" stroke="#3d3d3d" stroke-width="0.24">0</text>
<line x1="310.40" y1="387.06" x2="313.40" y2="387.06" stroke="#1a1a1a" stroke-width="1.1"  shape-rendering="crispEdges"/>
<text transform="translate(297.52,390.26) scale(0.9300,1)" font-size="9.3" fill="#3d3d3d" stroke="#3d3d3d" stroke-width="0.24">60</text>
<line x1="310.40" y1="372.62" x2="313.40" y2="372.62" stroke="#1a1a1a" stroke-width="1.1"  shape-rendering="crispEdges"/>
<text transform="translate(292.71,375.82) scale(0.9300,1)" font-size="9.3" fill="#3d3d3d" stroke="#3d3d3d" stroke-width="0.24">120</text>
<line x1="310.40" y1="358.17" x2="313.40" y2="358.17" stroke="#1a1a1a" stroke-width="1.1"  shape-rendering="crispEdges"/>
<text transform="translate(292.71,361.37) scale(0.9300,1)" font-size="9.3" fill="#3d3d3d" stroke="#3d3d3d" stroke-width="0.24">180</text>
<line x1="310.40" y1="343.73" x2="313.40" y2="343.73" stroke="#1a1a1a" stroke-width="1.1"  shape-rendering="crispEdges"/>
<text transform="translate(292.71,346.93) scale(0.9300,1)" font-size="9.3" fill="#3d3d3d" stroke="#3d3d3d" stroke-width="0.24">240</text>
<line x1="310.40" y1="329.29" x2="313.40" y2="329.29" stroke="#1a1a1a" stroke-width="1.1"  shape-rendering="crispEdges"/>
<text transform="translate(292.71,332.49) scale(0.9300,1)" font-size="9.3" fill="#3d3d3d" stroke="#3d3d3d" stroke-width="0.24">300</text>
<line x1="312.85" y1="401.50" x2="347.00" y2="401.50" stroke="#1a1a1a" stroke-width="1.1"  shape-rendering="crispEdges"/>
<line x1="322.20" y1="401.50" x2="322.20" y2="404.30" stroke="#1a1a1a" stroke-width="1.0"  shape-rendering="crispEdges"/>
<line x1="338.30" y1="401.50" x2="338.30" y2="404.30" stroke="#1a1a1a" stroke-width="1.0"  shape-rendering="crispEdges"/>
<polyline points="322.80,337.50 322.80,333.60 337.60,333.60 337.60,337.50" fill="none" stroke="#1a1a1a" stroke-width="1.0" shape-rendering="crispEdges"/>
<text transform="translate(328.56,333.99) scale(0.9760,1)" font-size="8.6" fill="#1a1a1a" stroke="#1a1a1a" stroke-width="0.24">*</text>
<text transform="translate(287.50,399.40) rotate(-90) translate(-0.38,0) scale(0.7606,1)" font-size="11.0" fill="#3d3d3d" stroke="#3d3d3d" stroke-width="0.24"><tspan>SRC (pmol O</tspan><tspan font-size="7.48" dy="2.42">2</tspan><tspan dy="-2.42">/min)</tspan></text>
<text transform="translate(324.60,410.80) rotate(-45) translate(-29.22,0) scale(0.9035,1)" font-size="8.9" fill="#3d3d3d" stroke="#3d3d3d" stroke-width="0.24">shCTRL</text>
<text transform="translate(340.40,410.90) rotate(-45) translate(-31.23,0) scale(0.9262,1)" font-size="8.9" fill="#3d3d3d" stroke="#3d3d3d" stroke-width="0.24">shDHPS</text>
<rect x="244.80" y="503.15" width="10.30" height="38.65" fill="#c9c8cd" />
<rect x="260.90" y="535.91" width="10.30" height="5.89" fill="#44aa48" />
<rect x="277.00" y="501.02" width="10.80" height="40.78" fill="#29a6df" />
<rect x="293.20" y="520.12" width="10.40" height="21.68" fill="#e8157d" />
<line x1="249.95" y1="507.15" x2="249.95" y2="498.90" stroke="#111" stroke-width="0.95" />
<line x1="247.45" y1="498.90" x2="252.45" y2="498.90" stroke="#111" stroke-width="0.95" />
<line x1="247.45" y1="507.15" x2="252.45" y2="507.15" stroke="#111" stroke-width="0.95" />
<circle cx="245.55" cy="494.42" r="1.4" fill="#111"/>
<circle cx="249.95" cy="491.83" r="1.4" fill="#111"/>
<circle cx="249.95" cy="496.31" r="1.4" fill="#111"/>
<circle cx="249.95" cy="506.44" r="1.4" fill="#111"/>
<circle cx="249.95" cy="510.45" r="1.4" fill="#111"/>
<circle cx="249.95" cy="514.46" r="1.4" fill="#111"/>
<line x1="266.05" y1="538.26" x2="266.05" y2="533.55" stroke="#111" stroke-width="0.95" />
<line x1="263.55" y1="533.55" x2="268.55" y2="533.55" stroke="#111" stroke-width="0.95" />
<line x1="263.55" y1="538.26" x2="268.55" y2="538.26" stroke="#111" stroke-width="0.95" />
<circle cx="266.05" cy="528.13" r="1.4" fill="#111"/>
<circle cx="270.05" cy="533.79" r="1.4" fill="#111"/>
<circle cx="261.75" cy="540.39" r="1.4" fill="#111"/>
<circle cx="265.65" cy="539.44" r="1.4" fill="#111"/>
<circle cx="269.25" cy="538.03" r="1.4" fill="#111"/>
<circle cx="266.05" cy="536.61" r="1.4" fill="#111"/>
<line x1="282.40" y1="506.44" x2="282.40" y2="495.37" stroke="#111" stroke-width="0.95" />
<line x1="279.90" y1="495.37" x2="284.90" y2="495.37" stroke="#111" stroke-width="0.95" />
<line x1="279.90" y1="506.44" x2="284.90" y2="506.44" stroke="#111" stroke-width="0.95" />
<circle cx="282.40" cy="479.58" r="1.4" fill="#111"/>
<circle cx="282.40" cy="491.12" r="1.4" fill="#111"/>
<circle cx="278.80" cy="504.32" r="1.4" fill="#111"/>
<circle cx="282.40" cy="506.44" r="1.4" fill="#111"/>
<circle cx="282.40" cy="517.52" r="1.4" fill="#111"/>
<circle cx="284.40" cy="501.73" r="1.4" fill="#111"/>
<line x1="298.40" y1="523.89" x2="298.40" y2="515.17" stroke="#111" stroke-width="0.95" />
<line x1="295.90" y1="515.17" x2="300.90" y2="515.17" stroke="#111" stroke-width="0.95" />
<line x1="295.90" y1="523.89" x2="300.90" y2="523.89" stroke="#111" stroke-width="0.95" />
<circle cx="298.40" cy="500.32" r="1.4" fill="#111"/>
<circle cx="298.40" cy="513.28" r="1.4" fill="#111"/>
<circle cx="298.40" cy="524.59" r="1.4" fill="#111"/>
<circle cx="298.40" cy="528.60" r="1.4" fill="#111"/>
<circle cx="298.40" cy="532.61" r="1.4" fill="#111"/>
<circle cx="298.40" cy="519.41" r="1.4" fill="#111"/>
<line x1="242.00" y1="467.50" x2="242.00" y2="542.35" stroke="#1a1a1a" stroke-width="1.1"  shape-rendering="crispEdges"/>
<line x1="239.00" y1="541.80" x2="242.00" y2="541.80" stroke="#1a1a1a" stroke-width="1.1"  shape-rendering="crispEdges"/>
<text transform="translate(230.93,545.00) scale(0.9300,1)" font-size="9.3" fill="#3d3d3d" stroke="#3d3d3d" stroke-width="0.24">0</text>
<line x1="239.00" y1="527.66" x2="242.00" y2="527.66" stroke="#1a1a1a" stroke-width="1.1"  shape-rendering="crispEdges"/>
<text transform="translate(226.12,530.86) scale(0.9300,1)" font-size="9.3" fill="#3d3d3d" stroke="#3d3d3d" stroke-width="0.24">60</text>
<line x1="239.00" y1="513.52" x2="242.00" y2="513.52" stroke="#1a1a1a" stroke-width="1.1"  shape-rendering="crispEdges"/>
<text transform="translate(221.31,516.72) scale(0.9300,1)" font-size="9.3" fill="#3d3d3d" stroke="#3d3d3d" stroke-width="0.24">120</text>
<line x1="239.00" y1="499.37" x2="242.00" y2="499.37" stroke="#1a1a1a" stroke-width="1.1"  shape-rendering="crispEdges"/>
<text transform="translate(221.31,502.57) scale(0.9300,1)" font-size="9.3" fill="#3d3d3d" stroke="#3d3d3d" stroke-width="0.24">180</text>
<line x1="239.00" y1="485.23" x2="242.00" y2="485.23" stroke="#1a1a1a" stroke-width="1.1"  shape-rendering="crispEdges"/>
<text transform="translate(221.31,488.43) scale(0.9300,1)" font-size="9.3" fill="#3d3d3d" stroke="#3d3d3d" stroke-width="0.24">240</text>
<line x1="239.00" y1="471.09" x2="242.00" y2="471.09" stroke="#1a1a1a" stroke-width="1.1"  shape-rendering="crispEdges"/>
<text transform="translate(221.31,474.29) scale(0.9300,1)" font-size="9.3" fill="#3d3d3d" stroke="#3d3d3d" stroke-width="0.24">300</text>
<line x1="241.45" y1="541.80" x2="306.00" y2="541.80" stroke="#1a1a1a" stroke-width="1.1"  shape-rendering="crispEdges"/>
<line x1="249.80" y1="541.80" x2="249.80" y2="544.60" stroke="#1a1a1a" stroke-width="1.0"  shape-rendering="crispEdges"/>
<line x1="266.10" y1="541.80" x2="266.10" y2="544.60" stroke="#1a1a1a" stroke-width="1.0"  shape-rendering="crispEdges"/>
<line x1="282.20" y1="541.80" x2="282.20" y2="544.60" stroke="#1a1a1a" stroke-width="1.0"  shape-rendering="crispEdges"/>
<line x1="298.30" y1="541.80" x2="298.30" y2="544.60" stroke="#1a1a1a" stroke-width="1.0"  shape-rendering="crispEdges"/>
<polyline points="249.50,475.00 249.50,472.60 265.60,472.60 265.60,475.00" fill="none" stroke="#1a1a1a" stroke-width="1.0" shape-rendering="crispEdges"/>
<text transform="translate(253.82,474.29) scale(1.1136,1)" font-size="8.6" fill="#1a1a1a" stroke="#1a1a1a" stroke-width="0.24">**</text>
<polyline points="267.30,475.00 267.30,472.60 281.50,472.60 281.50,475.00" fill="none" stroke="#1a1a1a" stroke-width="1.0" shape-rendering="crispEdges"/>
<text transform="translate(270.67,474.29) scale(1.1136,1)" font-size="8.6" fill="#1a1a1a" stroke="#1a1a1a" stroke-width="0.24">**</text>
<polyline points="267.60,466.00 267.60,463.10 298.20,463.10 298.20,466.00" fill="none" stroke="#1a1a1a" stroke-width="1.0" shape-rendering="crispEdges"/>
<text transform="translate(281.26,464.49) scale(0.9760,1)" font-size="8.6" fill="#1a1a1a" stroke="#1a1a1a" stroke-width="0.24">*</text>
<text transform="translate(214.60,537.00) rotate(-90) translate(-0.38,0) scale(0.7254,1)" font-size="11.0" fill="#3d3d3d" stroke="#3d3d3d" stroke-width="0.24"><tspan>OCR (pmol O</tspan><tspan font-size="7.48" dy="2.42">2</tspan><tspan dy="-2.42">/min)</tspan></text>
<text transform="translate(220.06,556.40) scale(0.9840,1)" font-size="8.9" fill="#3d3d3d" stroke="#3d3d3d" stroke-width="0.24">GC7:</text>
<text transform="translate(220.62,568.80) scale(0.9328,1)" font-size="8.9" fill="#3d3d3d" stroke="#3d3d3d" stroke-width="0.24">SUC:</text>
<text transform="translate(247.30,555.89)" font-size="9.0" fill="#3d3d3d" stroke="#3d3d3d" stroke-width="0.24">–</text>
<text transform="translate(247.30,568.29)" font-size="9.0" fill="#3d3d3d" stroke="#3d3d3d" stroke-width="0.24">–</text>
<text transform="translate(263.47,556.60)" font-size="9.0" fill="#3d3d3d" stroke="#3d3d3d" stroke-width="0.24">+</text>
<text transform="translate(263.60,568.29)" font-size="9.0" fill="#3d3d3d" stroke="#3d3d3d" stroke-width="0.24">–</text>
<text transform="translate(279.70,555.89)" font-size="9.0" fill="#3d3d3d" stroke="#3d3d3d" stroke-width="0.24">–</text>
<text transform="translate(279.57,569.00)" font-size="9.0" fill="#3d3d3d" stroke="#3d3d3d" stroke-width="0.24">+</text>
<text transform="translate(295.67,556.60)" font-size="9.0" fill="#3d3d3d" stroke="#3d3d3d" stroke-width="0.24">+</text>
<text transform="translate(295.67,569.00)" font-size="9.0" fill="#3d3d3d" stroke="#3d3d3d" stroke-width="0.24">+</text>
<rect x="356.20" y="506.13" width="10.00" height="35.67" fill="#c9c8cd" />
<rect x="372.50" y="540.36" width="10.00" height="1.44" fill="#44aa48" />
<rect x="388.60" y="501.08" width="10.60" height="40.72" fill="#29a6df" />
<rect x="405.00" y="525.63" width="10.60" height="16.17" fill="#e8157d" />
<line x1="361.20" y1="512.92" x2="361.20" y2="499.20" stroke="#111" stroke-width="0.95" />
<line x1="358.70" y1="499.20" x2="363.70" y2="499.20" stroke="#111" stroke-width="0.95" />
<line x1="358.70" y1="512.92" x2="363.70" y2="512.92" stroke="#111" stroke-width="0.95" />
<circle cx="361.20" cy="485.48" r="1.4" fill="#111"/>
<circle cx="361.20" cy="492.70" r="1.4" fill="#111"/>
<circle cx="361.20" cy="503.53" r="1.4" fill="#111"/>
<circle cx="366.00" cy="500.65" r="1.4" fill="#111"/>
<circle cx="361.20" cy="513.64" r="1.4" fill="#111"/>
<circle cx="361.20" cy="532.41" r="1.4" fill="#111"/>
<line x1="377.50" y1="541.37" x2="377.50" y2="539.35" stroke="#111" stroke-width="0.95" />
<line x1="375.00" y1="539.35" x2="380.00" y2="539.35" stroke="#111" stroke-width="0.95" />
<line x1="375.00" y1="541.37" x2="380.00" y2="541.37" stroke="#111" stroke-width="0.95" />
<circle cx="374.00" cy="539.20" r="1.4" fill="#111"/>
<circle cx="377.50" cy="540.64" r="1.4" fill="#111"/>
<circle cx="381.00" cy="537.47" r="1.4" fill="#111"/>
<circle cx="376.00" cy="541.51" r="1.4" fill="#111"/>
<circle cx="379.50" cy="541.08" r="1.4" fill="#111"/>
<line x1="393.90" y1="504.98" x2="393.90" y2="495.30" stroke="#111" stroke-width="0.95" />
<line x1="391.40" y1="495.30" x2="396.40" y2="495.30" stroke="#111" stroke-width="0.95" />
<line x1="391.40" y1="504.98" x2="396.40" y2="504.98" stroke="#111" stroke-width="0.95" />
<circle cx="393.90" cy="479.71" r="1.4" fill="#111"/>
<circle cx="393.90" cy="495.59" r="1.4" fill="#111"/>
<circle cx="393.90" cy="502.09" r="1.4" fill="#111"/>
<circle cx="393.90" cy="507.14" r="1.4" fill="#111"/>
<circle cx="393.90" cy="515.81" r="1.4" fill="#111"/>
<circle cx="395.90" cy="498.48" r="1.4" fill="#111"/>
<line x1="410.30" y1="528.80" x2="410.30" y2="522.31" stroke="#111" stroke-width="0.95" />
<line x1="407.80" y1="522.31" x2="412.80" y2="522.31" stroke="#111" stroke-width="0.95" />
<line x1="407.80" y1="528.80" x2="412.80" y2="528.80" stroke="#111" stroke-width="0.95" />
<circle cx="410.30" cy="503.25" r="1.4" fill="#111"/>
<circle cx="410.30" cy="521.58" r="1.4" fill="#111"/>
<circle cx="410.30" cy="527.36" r="1.4" fill="#111"/>
<circle cx="413.80" cy="529.09" r="1.4" fill="#111"/>
<circle cx="410.30" cy="531.40" r="1.4" fill="#111"/>
<circle cx="410.30" cy="525.92" r="1.4" fill="#111"/>
<line x1="353.40" y1="467.00" x2="353.40" y2="542.35" stroke="#1a1a1a" stroke-width="1.1"  shape-rendering="crispEdges"/>
<line x1="350.40" y1="541.80" x2="353.40" y2="541.80" stroke="#1a1a1a" stroke-width="1.1"  shape-rendering="crispEdges"/>
<text transform="translate(342.33,545.00) scale(0.9300,1)" font-size="9.3" fill="#3d3d3d" stroke="#3d3d3d" stroke-width="0.24">0</text>
<line x1="350.40" y1="527.36" x2="353.40" y2="527.36" stroke="#1a1a1a" stroke-width="1.1"  shape-rendering="crispEdges"/>
<text transform="translate(332.71,530.56) scale(0.9300,1)" font-size="9.3" fill="#3d3d3d" stroke="#3d3d3d" stroke-width="0.24">100</text>
<line x1="350.40" y1="512.92" x2="353.40" y2="512.92" stroke="#1a1a1a" stroke-width="1.1"  shape-rendering="crispEdges"/>
<text transform="translate(332.71,516.12) scale(0.9300,1)" font-size="9.3" fill="#3d3d3d" stroke="#3d3d3d" stroke-width="0.24">200</text>
<line x1="350.40" y1="498.48" x2="353.40" y2="498.48" stroke="#1a1a1a" stroke-width="1.1"  shape-rendering="crispEdges"/>
<text transform="translate(332.71,501.68) scale(0.9300,1)" font-size="9.3" fill="#3d3d3d" stroke="#3d3d3d" stroke-width="0.24">300</text>
<line x1="350.40" y1="484.04" x2="353.40" y2="484.04" stroke="#1a1a1a" stroke-width="1.1"  shape-rendering="crispEdges"/>
<text transform="translate(332.71,487.24) scale(0.9300,1)" font-size="9.3" fill="#3d3d3d" stroke="#3d3d3d" stroke-width="0.24">400</text>
<line x1="350.40" y1="469.60" x2="353.40" y2="469.60" stroke="#1a1a1a" stroke-width="1.1"  shape-rendering="crispEdges"/>
<text transform="translate(332.71,472.80) scale(0.9300,1)" font-size="9.3" fill="#3d3d3d" stroke="#3d3d3d" stroke-width="0.24">500</text>
<line x1="352.85" y1="541.80" x2="418.50" y2="541.80" stroke="#1a1a1a" stroke-width="1.1"  shape-rendering="crispEdges"/>
<line x1="361.10" y1="541.80" x2="361.10" y2="544.60" stroke="#1a1a1a" stroke-width="1.0"  shape-rendering="crispEdges"/>
<line x1="377.50" y1="541.80" x2="377.50" y2="544.60" stroke="#1a1a1a" stroke-width="1.0"  shape-rendering="crispEdges"/>
<line x1="393.90" y1="541.80" x2="393.90" y2="544.60" stroke="#1a1a1a" stroke-width="1.0"  shape-rendering="crispEdges"/>
<line x1="410.20" y1="541.80" x2="410.20" y2="544.60" stroke="#1a1a1a" stroke-width="1.0"  shape-rendering="crispEdges"/>
<polyline points="361.10,475.80 361.10,473.40 376.50,473.40 376.50,475.80" fill="none" stroke="#1a1a1a" stroke-width="1.0" shape-rendering="crispEdges"/>
<text transform="translate(365.07,474.99) scale(1.1136,1)" font-size="8.6" fill="#1a1a1a" stroke="#1a1a1a" stroke-width="0.24">**</text>
<polyline points="378.50,475.80 378.50,473.40 393.80,473.40 393.80,475.80" fill="none" stroke="#1a1a1a" stroke-width="1.0" shape-rendering="crispEdges"/>
<text transform="translate(382.42,474.99) scale(1.1136,1)" font-size="8.6" fill="#1a1a1a" stroke="#1a1a1a" stroke-width="0.24">**</text>
<polyline points="378.50,467.10 378.50,464.20 410.20,464.20 410.20,467.10" fill="none" stroke="#1a1a1a" stroke-width="1.0" shape-rendering="crispEdges"/>
<text transform="translate(392.71,465.19) scale(0.9760,1)" font-size="8.6" fill="#1a1a1a" stroke="#1a1a1a" stroke-width="0.24">*</text>
<text transform="translate(326.00,538.80) rotate(-90) translate(-0.38,0) scale(0.7606,1)" font-size="11.0" fill="#3d3d3d" stroke="#3d3d3d" stroke-width="0.24"><tspan>SRC (pmol O</tspan><tspan font-size="7.48" dy="2.42">2</tspan><tspan dy="-2.42">/min)</tspan></text>
<text transform="translate(358.60,555.89)" font-size="9.0" fill="#3d3d3d" stroke="#3d3d3d" stroke-width="0.24">–</text>
<text transform="translate(358.60,568.29)" font-size="9.0" fill="#3d3d3d" stroke="#3d3d3d" stroke-width="0.24">–</text>
<text transform="translate(374.87,556.60)" font-size="9.0" fill="#3d3d3d" stroke="#3d3d3d" stroke-width="0.24">+</text>
<text transform="translate(375.00,568.29)" font-size="9.0" fill="#3d3d3d" stroke="#3d3d3d" stroke-width="0.24">–</text>
<text transform="translate(391.40,555.89)" font-size="9.0" fill="#3d3d3d" stroke="#3d3d3d" stroke-width="0.24">–</text>
<text transform="translate(391.27,569.00)" font-size="9.0" fill="#3d3d3d" stroke="#3d3d3d" stroke-width="0.24">+</text>
<text transform="translate(407.57,556.60)" font-size="9.0" fill="#3d3d3d" stroke="#3d3d3d" stroke-width="0.24">+</text>
<text transform="translate(407.57,569.00)" font-size="9.0" fill="#3d3d3d" stroke="#3d3d3d" stroke-width="0.24">+</text>
<line x1="396.20" y1="183.80" x2="396.20" y2="260.55" stroke="#1a1a1a" stroke-width="1.1"  shape-rendering="crispEdges"/>
<line x1="393.20" y1="260.00" x2="396.20" y2="260.00" stroke="#1a1a1a" stroke-width="1.1"  shape-rendering="crispEdges"/>
<text transform="translate(385.13,263.20) scale(0.9300,1)" font-size="9.3" fill="#3d3d3d" stroke="#3d3d3d" stroke-width="0.24">0</text>
<line x1="393.20" y1="241.55" x2="396.20" y2="241.55" stroke="#1a1a1a" stroke-width="1.1"  shape-rendering="crispEdges"/>
<text transform="translate(380.32,244.75) scale(0.9300,1)" font-size="9.3" fill="#3d3d3d" stroke="#3d3d3d" stroke-width="0.24">50</text>
<line x1="393.20" y1="223.10" x2="396.20" y2="223.10" stroke="#1a1a1a" stroke-width="1.1"  shape-rendering="crispEdges"/>
<text transform="translate(375.51,226.30) scale(0.9300,1)" font-size="9.3" fill="#3d3d3d" stroke="#3d3d3d" stroke-width="0.24">100</text>
<line x1="393.20" y1="204.65" x2="396.20" y2="204.65" stroke="#1a1a1a" stroke-width="1.1"  shape-rendering="crispEdges"/>
<text transform="translate(375.51,207.85) scale(0.9300,1)" font-size="9.3" fill="#3d3d3d" stroke="#3d3d3d" stroke-width="0.24">150</text>
<line x1="393.20" y1="186.20" x2="396.20" y2="186.20" stroke="#1a1a1a" stroke-width="1.1"  shape-rendering="crispEdges"/>
<text transform="translate(375.51,189.40) scale(0.9300,1)" font-size="9.3" fill="#3d3d3d" stroke="#3d3d3d" stroke-width="0.24">200</text>
<line x1="395.65" y1="260.00" x2="472.60" y2="260.00" stroke="#1a1a1a" stroke-width="1.1"  shape-rendering="crispEdges"/>
<line x1="396.20" y1="260.00" x2="396.20" y2="262.80" stroke="#1a1a1a" stroke-width="1.0"  shape-rendering="crispEdges"/>
<text transform="translate(393.79,274.20) scale(0.9300,1)" font-size="9.3" fill="#3d3d3d" stroke="#3d3d3d" stroke-width="0.24">0</text>
<line x1="414.50" y1="260.00" x2="414.50" y2="262.80" stroke="#1a1a1a" stroke-width="1.0"  shape-rendering="crispEdges"/>
<text transform="translate(409.69,274.20) scale(0.9300,1)" font-size="9.3" fill="#3d3d3d" stroke="#3d3d3d" stroke-width="0.24">50</text>
<line x1="432.80" y1="260.00" x2="432.80" y2="262.80" stroke="#1a1a1a" stroke-width="1.0"  shape-rendering="crispEdges"/>
<text transform="translate(425.42,274.20) scale(0.9300,1)" font-size="9.3" fill="#3d3d3d" stroke="#3d3d3d" stroke-width="0.24">100</text>
<line x1="451.10" y1="260.00" x2="451.10" y2="262.80" stroke="#1a1a1a" stroke-width="1.0"  shape-rendering="crispEdges"/>
<text transform="translate(443.72,274.20) scale(0.9300,1)" font-size="9.3" fill="#3d3d3d" stroke="#3d3d3d" stroke-width="0.24">150</text>
<line x1="469.40" y1="260.00" x2="469.40" y2="262.80" stroke="#1a1a1a" stroke-width="1.0"  shape-rendering="crispEdges"/>
<text transform="translate(462.14,274.20) scale(0.9300,1)" font-size="9.3" fill="#3d3d3d" stroke="#3d3d3d" stroke-width="0.24">200</text>
<text transform="translate(403.13,288.20) scale(0.8021,1)" font-size="10.2" fill="#3d3d3d" stroke="#3d3d3d" stroke-width="0.24">ECAR (mpH/min)</text>
<text transform="translate(369.00,258.00) rotate(-90) translate(-0.40,0) scale(0.7711,1)" font-size="11.0" fill="#3d3d3d" stroke="#3d3d3d" stroke-width="0.24"><tspan>OCR (pmol O</tspan><tspan font-size="7.48" dy="2.42">2</tspan><tspan dy="-2.42">/min)</tspan></text>
<line x1="425.60" y1="208.90" x2="425.60" y2="201.60" stroke="#4a5069" stroke-width="0.95" />
<line x1="424.00" y1="201.60" x2="427.20" y2="201.60" stroke="#4a5069" stroke-width="0.95" />
<line x1="424.00" y1="208.90" x2="427.20" y2="208.90" stroke="#4a5069" stroke-width="0.95" />
<circle cx="425.60" cy="205.40" r="1.6" fill="#4a5069"/>
<rect x="424.8" y="252.3" width="4.8" height="2.2" fill="#44aa48"/>
<circle cx="458.80" cy="187.70" r="1.3" fill="#222"/>
<text transform="translate(463.52,190.50) scale(0.8358,1)" font-size="8.9" fill="#4a5064" stroke="#4a5064" stroke-width="0.24">CTRL</text>
<circle cx="458.80" cy="196.90" r="1.3" fill="#44aa48"/>
<text transform="translate(463.80,199.70) scale(0.8848,1)" font-size="8.9" fill="#52a852" stroke="#52a852" stroke-width="0.24">GC7</text>
<line x1="393.80" y1="325.50" x2="393.80" y2="401.95" stroke="#1a1a1a" stroke-width="1.1"  shape-rendering="crispEdges"/>
<line x1="390.80" y1="401.40" x2="393.80" y2="401.40" stroke="#1a1a1a" stroke-width="1.1"  shape-rendering="crispEdges"/>
<text transform="translate(377.92,404.60) scale(0.9300,1)" font-size="9.3" fill="#3d3d3d" stroke="#3d3d3d" stroke-width="0.24">80</text>
<line x1="390.80" y1="386.80" x2="393.80" y2="386.80" stroke="#1a1a1a" stroke-width="1.1"  shape-rendering="crispEdges"/>
<text transform="translate(373.11,390.00) scale(0.9300,1)" font-size="9.3" fill="#3d3d3d" stroke="#3d3d3d" stroke-width="0.24">100</text>
<line x1="390.80" y1="372.20" x2="393.80" y2="372.20" stroke="#1a1a1a" stroke-width="1.1"  shape-rendering="crispEdges"/>
<text transform="translate(373.11,375.40) scale(0.9300,1)" font-size="9.3" fill="#3d3d3d" stroke="#3d3d3d" stroke-width="0.24">120</text>
<line x1="390.80" y1="357.60" x2="393.80" y2="357.60" stroke="#1a1a1a" stroke-width="1.1"  shape-rendering="crispEdges"/>
<text transform="translate(373.11,360.80) scale(0.9300,1)" font-size="9.3" fill="#3d3d3d" stroke="#3d3d3d" stroke-width="0.24">140</text>
<line x1="390.80" y1="343.00" x2="393.80" y2="343.00" stroke="#1a1a1a" stroke-width="1.1"  shape-rendering="crispEdges"/>
<text transform="translate(373.11,346.20) scale(0.9300,1)" font-size="9.3" fill="#3d3d3d" stroke="#3d3d3d" stroke-width="0.24">160</text>
<line x1="390.80" y1="328.40" x2="393.80" y2="328.40" stroke="#1a1a1a" stroke-width="1.1"  shape-rendering="crispEdges"/>
<text transform="translate(373.11,331.60) scale(0.9300,1)" font-size="9.3" fill="#3d3d3d" stroke="#3d3d3d" stroke-width="0.24">180</text>
<line x1="393.25" y1="401.40" x2="470.10" y2="401.40" stroke="#1a1a1a" stroke-width="1.1"  shape-rendering="crispEdges"/>
<line x1="393.80" y1="401.40" x2="393.80" y2="404.20" stroke="#1a1a1a" stroke-width="1.0"  shape-rendering="crispEdges"/>
<text transform="translate(391.39,415.60) scale(0.9300,1)" font-size="9.3" fill="#3d3d3d" stroke="#3d3d3d" stroke-width="0.24">0</text>
<line x1="408.54" y1="401.40" x2="408.54" y2="404.20" stroke="#1a1a1a" stroke-width="1.0"  shape-rendering="crispEdges"/>
<text transform="translate(403.68,415.60) scale(0.9300,1)" font-size="9.3" fill="#3d3d3d" stroke="#3d3d3d" stroke-width="0.24">20</text>
<line x1="423.28" y1="401.40" x2="423.28" y2="404.20" stroke="#1a1a1a" stroke-width="1.0"  shape-rendering="crispEdges"/>
<text transform="translate(418.54,415.60) scale(0.9300,1)" font-size="9.3" fill="#3d3d3d" stroke="#3d3d3d" stroke-width="0.24">40</text>
<line x1="438.02" y1="401.40" x2="438.02" y2="404.20" stroke="#1a1a1a" stroke-width="1.0"  shape-rendering="crispEdges"/>
<text transform="translate(433.16,415.60) scale(0.9300,1)" font-size="9.3" fill="#3d3d3d" stroke="#3d3d3d" stroke-width="0.24">60</text>
<line x1="452.76" y1="401.40" x2="452.76" y2="404.20" stroke="#1a1a1a" stroke-width="1.0"  shape-rendering="crispEdges"/>
<text transform="translate(447.93,415.60) scale(0.9300,1)" font-size="9.3" fill="#3d3d3d" stroke="#3d3d3d" stroke-width="0.24">80</text>
<line x1="467.50" y1="401.40" x2="467.50" y2="404.20" stroke="#1a1a1a" stroke-width="1.0"  shape-rendering="crispEdges"/>
<text transform="translate(460.12,415.60) scale(0.9300,1)" font-size="9.3" fill="#3d3d3d" stroke="#3d3d3d" stroke-width="0.24">100</text>
<text transform="translate(400.93,430.10) scale(0.8008,1)" font-size="10.2" fill="#3d3d3d" stroke="#3d3d3d" stroke-width="0.24">ECAR (mpH/min)</text>
<text transform="translate(367.50,397.20) rotate(-90) translate(-0.39,0) scale(0.7403,1)" font-size="11.0" fill="#3d3d3d" stroke="#3d3d3d" stroke-width="0.24"><tspan>OCR (pmol O</tspan><tspan font-size="7.48" dy="2.42">2</tspan><tspan dy="-2.42">/min)</tspan></text>
<line x1="441.40" y1="367.50" x2="441.40" y2="356.20" stroke="#4a5069" stroke-width="0.95" />
<line x1="439.90" y1="356.20" x2="442.90" y2="356.20" stroke="#4a5069" stroke-width="0.95" />
<line x1="439.90" y1="367.50" x2="442.90" y2="367.50" stroke="#4a5069" stroke-width="0.95" />
<line x1="436.50" y1="362.00" x2="446.50" y2="362.00" stroke="#4a5069" stroke-width="0.95" />
<line x1="436.50" y1="360.50" x2="436.50" y2="363.50" stroke="#4a5069" stroke-width="0.95" />
<line x1="446.50" y1="360.50" x2="446.50" y2="363.50" stroke="#4a5069" stroke-width="0.95" />
<circle cx="441.40" cy="362.00" r="1.5" fill="#4a5069"/>
<circle cx="431.90" cy="391.90" r="1.6" fill="#f29111"/>
<circle cx="458.60" cy="330.00" r="1.3" fill="#222"/>
<text transform="translate(464.79,332.80) scale(0.8630,1)" font-size="8.9" fill="#4a5064" stroke="#4a5064" stroke-width="0.24">shCTRL</text>
<circle cx="458.60" cy="340.40" r="1.3" fill="#f29111"/>
<text transform="translate(464.78,343.40) scale(0.8814,1)" font-size="8.9" fill="#f29111" stroke="#f29111" stroke-width="0.24">shDHPS</text>
<text transform="translate(45.37,605.00)" font-size="9.0" fill="#3d3d3d" stroke="#3d3d3d" stroke-width="0.24">CTRL</text>
<text transform="translate(112.05,605.00)" font-size="9.0" fill="#3d3d3d" stroke="#3d3d3d" stroke-width="0.24">GC7</text>
<text transform="translate(176.27,605.00)" font-size="9.0" fill="#3d3d3d" stroke="#3d3d3d" stroke-width="0.24">SUC</text>
<text transform="translate(228.16,605.00)" font-size="9.0" fill="#3d3d3d" stroke="#3d3d3d" stroke-width="0.24">GC7+SUC</text>
<path d="M31.60,662.50 C32.02,661.94 33.25,660.53 34.10,659.11 C34.95,657.70 35.92,655.70 36.70,654.04 C37.48,652.38 38.20,650.93 38.80,649.16 C39.40,647.38 39.75,645.71 40.30,643.38 C40.85,641.06 41.60,637.79 42.10,635.22 C42.60,632.65 42.90,630.54 43.30,627.95 C43.70,625.36 44.12,621.45 44.50,619.69 C44.88,617.93 45.27,617.83 45.60,617.40 C45.93,616.97 46.23,616.95 46.50,617.10 C46.77,617.25 46.95,617.66 47.20,618.29 C47.45,618.93 47.72,619.47 48.00,620.88 C48.28,622.29 48.60,624.58 48.90,626.76 C49.20,628.93 49.50,631.35 49.80,633.93 C50.10,636.50 50.40,639.62 50.70,642.19 C51.00,644.76 51.25,646.87 51.60,649.36 C51.95,651.85 52.37,654.93 52.80,657.12 C53.23,659.31 53.97,661.60 54.20,662.50 Z" fill="#c6c6c9" stroke="#bcbcc0" stroke-width="0.5"/>
<path d="M67.10,662.40 C67.40,660.62 68.40,656.47 68.90,651.70 C69.40,646.93 69.73,639.37 70.10,633.80 C70.47,628.23 70.80,621.48 71.10,618.30 C71.40,615.12 71.63,614.90 71.90,614.70 C72.17,614.50 72.40,613.92 72.70,617.10 C73.00,620.28 73.33,628.03 73.70,633.80 C74.07,639.57 74.40,646.93 74.90,651.70 C75.40,656.47 76.40,660.62 76.70,662.40" fill="#f2f3f6" stroke="#5a6275" stroke-width="0.9"/>
<path d="M96.20,662.50 C96.62,661.95 97.85,660.58 98.70,659.20 C99.55,657.83 100.52,655.88 101.30,654.26 C102.08,652.65 102.80,651.24 103.40,649.51 C104.00,647.78 104.35,646.15 104.90,643.89 C105.45,641.63 106.20,638.45 106.70,635.94 C107.20,633.44 107.50,631.39 107.90,628.87 C108.30,626.35 108.72,622.53 109.10,620.82 C109.48,619.11 109.87,619.01 110.20,618.59 C110.53,618.17 110.83,618.15 111.10,618.30 C111.37,618.45 111.55,618.85 111.80,619.46 C112.05,620.08 112.32,620.61 112.60,621.98 C112.88,623.36 113.20,625.59 113.50,627.70 C113.80,629.82 114.10,632.18 114.40,634.68 C114.70,637.19 115.00,640.22 115.30,642.73 C115.60,645.23 115.85,647.28 116.20,649.71 C116.55,652.13 116.97,655.13 117.40,657.27 C117.83,659.40 118.57,661.63 118.80,662.50 Z" fill="#c6c6c9" stroke="#bcbcc0" stroke-width="0.5"/>
<path d="M104.10,662.40 C104.70,661.22 106.60,657.48 107.70,655.30 C108.80,653.12 109.80,651.30 110.70,649.30 C111.60,647.30 112.42,646.28 113.10,643.30 C113.78,640.32 114.35,633.85 114.80,631.40 C115.25,628.95 115.50,628.90 115.80,628.60 C116.10,628.30 116.30,630.62 116.60,629.60 C116.90,628.58 117.25,624.52 117.60,622.50 C117.95,620.48 118.37,617.83 118.70,617.50 C119.03,617.17 119.32,618.92 119.60,620.50 C119.88,622.08 120.10,623.78 120.40,627.00 C120.70,630.22 120.93,635.30 121.40,639.80 C121.87,644.30 122.60,650.67 123.20,654.00 C123.80,657.33 124.12,658.67 125.00,659.80 C125.88,660.93 127.50,660.57 128.50,660.80 C129.50,661.03 129.70,660.93 131.00,661.20 C132.30,661.47 135.42,662.20 136.30,662.40" fill="#8fd08a" fill-opacity="0.55" stroke="#47a447" stroke-width="0.9"/>
<path d="M160.20,662.50 C160.62,661.97 161.85,660.65 162.70,659.32 C163.55,658.00 164.52,656.12 165.30,654.56 C166.08,653.00 166.80,651.65 167.40,649.98 C168.00,648.32 168.35,646.74 168.90,644.56 C169.45,642.38 170.20,639.32 170.70,636.90 C171.20,634.49 171.50,632.51 171.90,630.08 C172.30,627.65 172.72,623.98 173.10,622.33 C173.48,620.68 173.87,620.59 174.20,620.18 C174.53,619.78 174.83,619.76 175.10,619.90 C175.37,620.04 175.55,620.43 175.80,621.02 C176.05,621.61 176.32,622.13 176.60,623.45 C176.88,624.77 177.20,626.92 177.50,628.96 C177.80,631.00 178.10,633.27 178.40,635.69 C178.70,638.10 179.00,641.03 179.30,643.44 C179.60,645.86 179.85,647.83 180.20,650.17 C180.55,652.50 180.97,655.40 181.40,657.46 C181.83,659.51 182.57,661.66 182.80,662.50 Z" fill="#c6c6c9" stroke="#bcbcc0" stroke-width="0.5"/>
<path d="M195.60,662.40 C195.83,660.67 196.57,657.40 197.00,652.00 C197.43,646.60 197.83,636.17 198.20,630.00 C198.57,623.83 198.92,617.88 199.20,615.00 C199.48,612.12 199.65,612.70 199.90,612.70 C200.15,612.70 200.42,612.12 200.70,615.00 C200.98,617.88 201.28,623.83 201.60,630.00 C201.92,636.17 202.23,646.60 202.60,652.00 C202.97,657.40 203.60,660.67 203.80,662.40" fill="#acdaf3" stroke="#3fa6dd" stroke-width="0.9"/>
<path d="M222.80,662.50 C223.22,661.95 224.45,660.56 225.30,659.18 C226.15,657.80 227.12,655.83 227.90,654.21 C228.68,652.58 229.40,651.16 230.00,649.42 C230.60,647.68 230.95,646.04 231.50,643.76 C232.05,641.49 232.80,638.28 233.30,635.76 C233.80,633.24 234.10,631.17 234.50,628.64 C234.90,626.10 235.32,622.26 235.70,620.54 C236.08,618.81 236.47,618.72 236.80,618.29 C237.13,617.87 237.43,617.85 237.70,618.00 C237.97,618.15 238.15,618.55 238.40,619.17 C238.65,619.79 238.92,620.33 239.20,621.71 C239.48,623.09 239.80,625.34 240.10,627.47 C240.40,629.60 240.70,631.97 241.00,634.49 C241.30,637.01 241.60,640.07 241.90,642.59 C242.20,645.11 242.45,647.18 242.80,649.62 C243.15,652.06 243.57,655.08 244.00,657.23 C244.43,659.38 245.17,661.62 245.40,662.50 Z" fill="#c6c6c9" stroke="#bcbcc0" stroke-width="0.5"/>
<path d="M228.00,662.40 C228.67,662.00 230.70,660.98 232.00,660.00 C233.30,659.02 234.55,658.08 235.80,656.50 C237.05,654.92 238.60,652.03 239.50,650.50 C240.40,648.97 240.58,649.05 241.20,647.30 C241.82,645.55 242.67,642.30 243.20,640.00 C243.73,637.70 244.02,635.83 244.40,633.50 C244.78,631.17 245.15,627.83 245.50,626.00 C245.85,624.17 246.20,622.83 246.50,622.50 C246.80,622.17 246.97,622.42 247.30,624.00 C247.63,625.58 248.05,629.17 248.50,632.00 C248.95,634.83 249.55,638.70 250.00,641.00 C250.45,643.30 250.78,645.30 251.20,645.80 C251.62,646.30 252.03,645.63 252.50,644.00 C252.97,642.37 253.53,638.83 254.00,636.00 C254.47,633.17 254.92,629.42 255.30,627.00 C255.68,624.58 255.98,622.62 256.30,621.50 C256.62,620.38 256.88,620.22 257.20,620.30 C257.52,620.38 257.85,621.38 258.20,622.00 C258.55,622.62 258.92,623.00 259.30,624.00 C259.68,625.00 260.05,626.00 260.50,628.00 C260.95,630.00 261.42,632.67 262.00,636.00 C262.58,639.33 263.42,644.50 264.00,648.00 C264.58,651.50 265.05,654.60 265.50,657.00 C265.95,659.40 266.50,661.50 266.70,662.40" fill="#f3a9cd" fill-opacity="0.8" stroke="#c8186e" stroke-width="0.9"/>
<rect x="29.60" y="608.60" width="55.20" height="54.00" fill="none" stroke="#1a1a1a" stroke-width="1.1"/>
<line x1="27.80" y1="611.60" x2="29.60" y2="611.60" stroke="#1a1a1a" stroke-width="0.9" />
<line x1="27.80" y1="616.80" x2="29.60" y2="616.80" stroke="#1a1a1a" stroke-width="0.9" />
<line x1="27.80" y1="622.00" x2="29.60" y2="622.00" stroke="#1a1a1a" stroke-width="0.9" />
<line x1="27.80" y1="627.20" x2="29.60" y2="627.20" stroke="#1a1a1a" stroke-width="0.9" />
<line x1="27.80" y1="632.40" x2="29.60" y2="632.40" stroke="#1a1a1a" stroke-width="0.9" />
<line x1="27.80" y1="637.60" x2="29.60" y2="637.60" stroke="#1a1a1a" stroke-width="0.9" />
<line x1="27.80" y1="642.80" x2="29.60" y2="642.80" stroke="#1a1a1a" stroke-width="0.9" />
<line x1="27.80" y1="648.00" x2="29.60" y2="648.00" stroke="#1a1a1a" stroke-width="0.9" />
<line x1="27.80" y1="653.20" x2="29.60" y2="653.20" stroke="#1a1a1a" stroke-width="0.9" />
<line x1="27.80" y1="658.40" x2="29.60" y2="658.40" stroke="#1a1a1a" stroke-width="0.9" />
<line x1="27.80" y1="663.60" x2="29.60" y2="663.60" stroke="#1a1a1a" stroke-width="0.9" />
<line x1="32.10" y1="662.60" x2="32.10" y2="665.20" stroke="#1a1a1a" stroke-width="0.75" />
<line x1="35.23" y1="662.60" x2="35.23" y2="664.20" stroke="#1a1a1a" stroke-width="0.75" />
<line x1="37.06" y1="662.60" x2="37.06" y2="664.20" stroke="#1a1a1a" stroke-width="0.75" />
<line x1="38.36" y1="662.60" x2="38.36" y2="664.20" stroke="#1a1a1a" stroke-width="0.75" />
<line x1="39.37" y1="662.60" x2="39.37" y2="664.20" stroke="#1a1a1a" stroke-width="0.75" />
<line x1="40.19" y1="662.60" x2="40.19" y2="664.20" stroke="#1a1a1a" stroke-width="0.75" />
<line x1="40.89" y1="662.60" x2="40.89" y2="664.20" stroke="#1a1a1a" stroke-width="0.75" />
<line x1="41.49" y1="662.60" x2="41.49" y2="664.20" stroke="#1a1a1a" stroke-width="0.75" />
<line x1="42.02" y1="662.60" x2="42.02" y2="664.20" stroke="#1a1a1a" stroke-width="0.75" />
<line x1="42.50" y1="662.60" x2="42.50" y2="665.20" stroke="#1a1a1a" stroke-width="0.75" />
<line x1="45.63" y1="662.60" x2="45.63" y2="664.20" stroke="#1a1a1a" stroke-width="0.75" />
<line x1="47.46" y1="662.60" x2="47.46" y2="664.20" stroke="#1a1a1a" stroke-width="0.75" />
<line x1="48.76" y1="662.60" x2="48.76" y2="664.20" stroke="#1a1a1a" stroke-width="0.75" />
<line x1="49.77" y1="662.60" x2="49.77" y2="664.20" stroke="#1a1a1a" stroke-width="0.75" />
<line x1="50.59" y1="662.60" x2="50.59" y2="664.20" stroke="#1a1a1a" stroke-width="0.75" />
<line x1="51.29" y1="662.60" x2="51.29" y2="664.20" stroke="#1a1a1a" stroke-width="0.75" />
<line x1="51.89" y1="662.60" x2="51.89" y2="664.20" stroke="#1a1a1a" stroke-width="0.75" />
<line x1="52.42" y1="662.60" x2="52.42" y2="664.20" stroke="#1a1a1a" stroke-width="0.75" />
<line x1="52.90" y1="662.60" x2="52.90" y2="665.20" stroke="#1a1a1a" stroke-width="0.75" />
<line x1="56.03" y1="662.60" x2="56.03" y2="664.20" stroke="#1a1a1a" stroke-width="0.75" />
<line x1="57.86" y1="662.60" x2="57.86" y2="664.20" stroke="#1a1a1a" stroke-width="0.75" />
<line x1="59.16" y1="662.60" x2="59.16" y2="664.20" stroke="#1a1a1a" stroke-width="0.75" />
<line x1="60.17" y1="662.60" x2="60.17" y2="664.20" stroke="#1a1a1a" stroke-width="0.75" />
<line x1="60.99" y1="662.60" x2="60.99" y2="664.20" stroke="#1a1a1a" stroke-width="0.75" />
<line x1="61.69" y1="662.60" x2="61.69" y2="664.20" stroke="#1a1a1a" stroke-width="0.75" />
<line x1="62.29" y1="662.60" x2="62.29" y2="664.20" stroke="#1a1a1a" stroke-width="0.75" />
<line x1="62.82" y1="662.60" x2="62.82" y2="664.20" stroke="#1a1a1a" stroke-width="0.75" />
<line x1="63.30" y1="662.60" x2="63.30" y2="665.20" stroke="#1a1a1a" stroke-width="0.75" />
<line x1="66.43" y1="662.60" x2="66.43" y2="664.20" stroke="#1a1a1a" stroke-width="0.75" />
<line x1="68.26" y1="662.60" x2="68.26" y2="664.20" stroke="#1a1a1a" stroke-width="0.75" />
<line x1="69.56" y1="662.60" x2="69.56" y2="664.20" stroke="#1a1a1a" stroke-width="0.75" />
<line x1="70.57" y1="662.60" x2="70.57" y2="664.20" stroke="#1a1a1a" stroke-width="0.75" />
<line x1="71.39" y1="662.60" x2="71.39" y2="664.20" stroke="#1a1a1a" stroke-width="0.75" />
<line x1="72.09" y1="662.60" x2="72.09" y2="664.20" stroke="#1a1a1a" stroke-width="0.75" />
<line x1="72.69" y1="662.60" x2="72.69" y2="664.20" stroke="#1a1a1a" stroke-width="0.75" />
<line x1="73.22" y1="662.60" x2="73.22" y2="664.20" stroke="#1a1a1a" stroke-width="0.75" />
<line x1="73.70" y1="662.60" x2="73.70" y2="665.20" stroke="#1a1a1a" stroke-width="0.75" />
<line x1="76.83" y1="662.60" x2="76.83" y2="664.20" stroke="#1a1a1a" stroke-width="0.75" />
<line x1="78.66" y1="662.60" x2="78.66" y2="664.20" stroke="#1a1a1a" stroke-width="0.75" />
<line x1="79.96" y1="662.60" x2="79.96" y2="664.20" stroke="#1a1a1a" stroke-width="0.75" />
<line x1="80.97" y1="662.60" x2="80.97" y2="664.20" stroke="#1a1a1a" stroke-width="0.75" />
<line x1="81.79" y1="662.60" x2="81.79" y2="664.20" stroke="#1a1a1a" stroke-width="0.75" />
<line x1="82.49" y1="662.60" x2="82.49" y2="664.20" stroke="#1a1a1a" stroke-width="0.75" />
<line x1="83.09" y1="662.60" x2="83.09" y2="664.20" stroke="#1a1a1a" stroke-width="0.75" />
<line x1="83.62" y1="662.60" x2="83.62" y2="664.20" stroke="#1a1a1a" stroke-width="0.75" />
<rect x="94.60" y="608.60" width="55.20" height="54.00" fill="none" stroke="#1a1a1a" stroke-width="1.1"/>
<line x1="92.80" y1="611.60" x2="94.60" y2="611.60" stroke="#1a1a1a" stroke-width="0.9" />
<line x1="92.80" y1="616.80" x2="94.60" y2="616.80" stroke="#1a1a1a" stroke-width="0.9" />
<line x1="92.80" y1="622.00" x2="94.60" y2="622.00" stroke="#1a1a1a" stroke-width="0.9" />
<line x1="92.80" y1="627.20" x2="94.60" y2="627.20" stroke="#1a1a1a" stroke-width="0.9" />
<line x1="92.80" y1="632.40" x2="94.60" y2="632.40" stroke="#1a1a1a" stroke-width="0.9" />
<line x1="92.80" y1="637.60" x2="94.60" y2="637.60" stroke="#1a1a1a" stroke-width="0.9" />
<line x1="92.80" y1="642.80" x2="94.60" y2="642.80" stroke="#1a1a1a" stroke-width="0.9" />
<line x1="92.80" y1="648.00" x2="94.60" y2="648.00" stroke="#1a1a1a" stroke-width="0.9" />
<line x1="92.80" y1="653.20" x2="94.60" y2="653.20" stroke="#1a1a1a" stroke-width="0.9" />
<line x1="92.80" y1="658.40" x2="94.60" y2="658.40" stroke="#1a1a1a" stroke-width="0.9" />
<line x1="92.80" y1="663.60" x2="94.60" y2="663.60" stroke="#1a1a1a" stroke-width="0.9" />
<line x1="97.10" y1="662.60" x2="97.10" y2="665.20" stroke="#1a1a1a" stroke-width="0.75" />
<line x1="100.23" y1="662.60" x2="100.23" y2="664.20" stroke="#1a1a1a" stroke-width="0.75" />
<line x1="102.06" y1="662.60" x2="102.06" y2="664.20" stroke="#1a1a1a" stroke-width="0.75" />
<line x1="103.36" y1="662.60" x2="103.36" y2="664.20" stroke="#1a1a1a" stroke-width="0.75" />
<line x1="104.37" y1="662.60" x2="104.37" y2="664.20" stroke="#1a1a1a" stroke-width="0.75" />
<line x1="105.19" y1="662.60" x2="105.19" y2="664.20" stroke="#1a1a1a" stroke-width="0.75" />
<line x1="105.89" y1="662.60" x2="105.89" y2="664.20" stroke="#1a1a1a" stroke-width="0.75" />
<line x1="106.49" y1="662.60" x2="106.49" y2="664.20" stroke="#1a1a1a" stroke-width="0.75" />
<line x1="107.02" y1="662.60" x2="107.02" y2="664.20" stroke="#1a1a1a" stroke-width="0.75" />
<line x1="107.50" y1="662.60" x2="107.50" y2="665.20" stroke="#1a1a1a" stroke-width="0.75" />
<line x1="110.63" y1="662.60" x2="110.63" y2="664.20" stroke="#1a1a1a" stroke-width="0.75" />
<line x1="112.46" y1="662.60" x2="112.46" y2="664.20" stroke="#1a1a1a" stroke-width="0.75" />
<line x1="113.76" y1="662.60" x2="113.76" y2="664.20" stroke="#1a1a1a" stroke-width="0.75" />
<line x1="114.77" y1="662.60" x2="114.77" y2="664.20" stroke="#1a1a1a" stroke-width="0.75" />
<line x1="115.59" y1="662.60" x2="115.59" y2="664.20" stroke="#1a1a1a" stroke-width="0.75" />
<line x1="116.29" y1="662.60" x2="116.29" y2="664.20" stroke="#1a1a1a" stroke-width="0.75" />
<line x1="116.89" y1="662.60" x2="116.89" y2="664.20" stroke="#1a1a1a" stroke-width="0.75" />
<line x1="117.42" y1="662.60" x2="117.42" y2="664.20" stroke="#1a1a1a" stroke-width="0.75" />
<line x1="117.90" y1="662.60" x2="117.90" y2="665.20" stroke="#1a1a1a" stroke-width="0.75" />
<line x1="121.03" y1="662.60" x2="121.03" y2="664.20" stroke="#1a1a1a" stroke-width="0.75" />
<line x1="122.86" y1="662.60" x2="122.86" y2="664.20" stroke="#1a1a1a" stroke-width="0.75" />
<line x1="124.16" y1="662.60" x2="124.16" y2="664.20" stroke="#1a1a1a" stroke-width="0.75" />
<line x1="125.17" y1="662.60" x2="125.17" y2="664.20" stroke="#1a1a1a" stroke-width="0.75" />
<line x1="125.99" y1="662.60" x2="125.99" y2="664.20" stroke="#1a1a1a" stroke-width="0.75" />
<line x1="126.69" y1="662.60" x2="126.69" y2="664.20" stroke="#1a1a1a" stroke-width="0.75" />
<line x1="127.29" y1="662.60" x2="127.29" y2="664.20" stroke="#1a1a1a" stroke-width="0.75" />
<line x1="127.82" y1="662.60" x2="127.82" y2="664.20" stroke="#1a1a1a" stroke-width="0.75" />
<line x1="128.30" y1="662.60" x2="128.30" y2="665.20" stroke="#1a1a1a" stroke-width="0.75" />
<line x1="131.43" y1="662.60" x2="131.43" y2="664.20" stroke="#1a1a1a" stroke-width="0.75" />
<line x1="133.26" y1="662.60" x2="133.26" y2="664.20" stroke="#1a1a1a" stroke-width="0.75" />
<line x1="134.56" y1="662.60" x2="134.56" y2="664.20" stroke="#1a1a1a" stroke-width="0.75" />
<line x1="135.57" y1="662.60" x2="135.57" y2="664.20" stroke="#1a1a1a" stroke-width="0.75" />
<line x1="136.39" y1="662.60" x2="136.39" y2="664.20" stroke="#1a1a1a" stroke-width="0.75" />
<line x1="137.09" y1="662.60" x2="137.09" y2="664.20" stroke="#1a1a1a" stroke-width="0.75" />
<line x1="137.69" y1="662.60" x2="137.69" y2="664.20" stroke="#1a1a1a" stroke-width="0.75" />
<line x1="138.22" y1="662.60" x2="138.22" y2="664.20" stroke="#1a1a1a" stroke-width="0.75" />
<line x1="138.70" y1="662.60" x2="138.70" y2="665.20" stroke="#1a1a1a" stroke-width="0.75" />
<line x1="141.83" y1="662.60" x2="141.83" y2="664.20" stroke="#1a1a1a" stroke-width="0.75" />
<line x1="143.66" y1="662.60" x2="143.66" y2="664.20" stroke="#1a1a1a" stroke-width="0.75" />
<line x1="144.96" y1="662.60" x2="144.96" y2="664.20" stroke="#1a1a1a" stroke-width="0.75" />
<line x1="145.97" y1="662.60" x2="145.97" y2="664.20" stroke="#1a1a1a" stroke-width="0.75" />
<line x1="146.79" y1="662.60" x2="146.79" y2="664.20" stroke="#1a1a1a" stroke-width="0.75" />
<line x1="147.49" y1="662.60" x2="147.49" y2="664.20" stroke="#1a1a1a" stroke-width="0.75" />
<line x1="148.09" y1="662.60" x2="148.09" y2="664.20" stroke="#1a1a1a" stroke-width="0.75" />
<line x1="148.62" y1="662.60" x2="148.62" y2="664.20" stroke="#1a1a1a" stroke-width="0.75" />
<rect x="158.60" y="608.60" width="55.20" height="54.00" fill="none" stroke="#1a1a1a" stroke-width="1.1"/>
<line x1="156.80" y1="611.60" x2="158.60" y2="611.60" stroke="#1a1a1a" stroke-width="0.9" />
<line x1="156.80" y1="616.80" x2="158.60" y2="616.80" stroke="#1a1a1a" stroke-width="0.9" />
<line x1="156.80" y1="622.00" x2="158.60" y2="622.00" stroke="#1a1a1a" stroke-width="0.9" />
<line x1="156.80" y1="627.20" x2="158.60" y2="627.20" stroke="#1a1a1a" stroke-width="0.9" />
<line x1="156.80" y1="632.40" x2="158.60" y2="632.40" stroke="#1a1a1a" stroke-width="0.9" />
<line x1="156.80" y1="637.60" x2="158.60" y2="637.60" stroke="#1a1a1a" stroke-width="0.9" />
<line x1="156.80" y1="642.80" x2="158.60" y2="642.80" stroke="#1a1a1a" stroke-width="0.9" />
<line x1="156.80" y1="648.00" x2="158.60" y2="648.00" stroke="#1a1a1a" stroke-width="0.9" />
<line x1="156.80" y1="653.20" x2="158.60" y2="653.20" stroke="#1a1a1a" stroke-width="0.9" />
<line x1="156.80" y1="658.40" x2="158.60" y2="658.40" stroke="#1a1a1a" stroke-width="0.9" />
<line x1="156.80" y1="663.60" x2="158.60" y2="663.60" stroke="#1a1a1a" stroke-width="0.9" />
<line x1="161.10" y1="662.60" x2="161.10" y2="665.20" stroke="#1a1a1a" stroke-width="0.75" />
<line x1="164.23" y1="662.60" x2="164.23" y2="664.20" stroke="#1a1a1a" stroke-width="0.75" />
<line x1="166.06" y1="662.60" x2="166.06" y2="664.20" stroke="#1a1a1a" stroke-width="0.75" />
<line x1="167.36" y1="662.60" x2="167.36" y2="664.20" stroke="#1a1a1a" stroke-width="0.75" />
<line x1="168.37" y1="662.60" x2="168.37" y2="664.20" stroke="#1a1a1a" stroke-width="0.75" />
<line x1="169.19" y1="662.60" x2="169.19" y2="664.20" stroke="#1a1a1a" stroke-width="0.75" />
<line x1="169.89" y1="662.60" x2="169.89" y2="664.20" stroke="#1a1a1a" stroke-width="0.75" />
<line x1="170.49" y1="662.60" x2="170.49" y2="664.20" stroke="#1a1a1a" stroke-width="0.75" />
<line x1="171.02" y1="662.60" x2="171.02" y2="664.20" stroke="#1a1a1a" stroke-width="0.75" />
<line x1="171.50" y1="662.60" x2="171.50" y2="665.20" stroke="#1a1a1a" stroke-width="0.75" />
<line x1="174.63" y1="662.60" x2="174.63" y2="664.20" stroke="#1a1a1a" stroke-width="0.75" />
<line x1="176.46" y1="662.60" x2="176.46" y2="664.20" stroke="#1a1a1a" stroke-width="0.75" />
<line x1="177.76" y1="662.60" x2="177.76" y2="664.20" stroke="#1a1a1a" stroke-width="0.75" />
<line x1="178.77" y1="662.60" x2="178.77" y2="664.20" stroke="#1a1a1a" stroke-width="0.75" />
<line x1="179.59" y1="662.60" x2="179.59" y2="664.20" stroke="#1a1a1a" stroke-width="0.75" />
<line x1="180.29" y1="662.60" x2="180.29" y2="664.20" stroke="#1a1a1a" stroke-width="0.75" />
<line x1="180.89" y1="662.60" x2="180.89" y2="664.20" stroke="#1a1a1a" stroke-width="0.75" />
<line x1="181.42" y1="662.60" x2="181.42" y2="664.20" stroke="#1a1a1a" stroke-width="0.75" />
<line x1="181.90" y1="662.60" x2="181.90" y2="665.20" stroke="#1a1a1a" stroke-width="0.75" />
<line x1="185.03" y1="662.60" x2="185.03" y2="664.20" stroke="#1a1a1a" stroke-width="0.75" />
<line x1="186.86" y1="662.60" x2="186.86" y2="664.20" stroke="#1a1a1a" stroke-width="0.75" />
<line x1="188.16" y1="662.60" x2="188.16" y2="664.20" stroke="#1a1a1a" stroke-width="0.75" />
<line x1="189.17" y1="662.60" x2="189.17" y2="664.20" stroke="#1a1a1a" stroke-width="0.75" />
<line x1="189.99" y1="662.60" x2="189.99" y2="664.20" stroke="#1a1a1a" stroke-width="0.75" />
<line x1="190.69" y1="662.60" x2="190.69" y2="664.20" stroke="#1a1a1a" stroke-width="0.75" />
<line x1="191.29" y1="662.60" x2="191.29" y2="664.20" stroke="#1a1a1a" stroke-width="0.75" />
<line x1="191.82" y1="662.60" x2="191.82" y2="664.20" stroke="#1a1a1a" stroke-width="0.75" />
<line x1="192.30" y1="662.60" x2="192.30" y2="665.20" stroke="#1a1a1a" stroke-width="0.75" />
<line x1="195.43" y1="662.60" x2="195.43" y2="664.20" stroke="#1a1a1a" stroke-width="0.75" />
<line x1="197.26" y1="662.60" x2="197.26" y2="664.20" stroke="#1a1a1a" stroke-width="0.75" />
<line x1="198.56" y1="662.60" x2="198.56" y2="664.20" stroke="#1a1a1a" stroke-width="0.75" />
<line x1="199.57" y1="662.60" x2="199.57" y2="664.20" stroke="#1a1a1a" stroke-width="0.75" />
<line x1="200.39" y1="662.60" x2="200.39" y2="664.20" stroke="#1a1a1a" stroke-width="0.75" />
<line x1="201.09" y1="662.60" x2="201.09" y2="664.20" stroke="#1a1a1a" stroke-width="0.75" />
<line x1="201.69" y1="662.60" x2="201.69" y2="664.20" stroke="#1a1a1a" stroke-width="0.75" />
<line x1="202.22" y1="662.60" x2="202.22" y2="664.20" stroke="#1a1a1a" stroke-width="0.75" />
<line x1="202.70" y1="662.60" x2="202.70" y2="665.20" stroke="#1a1a1a" stroke-width="0.75" />
<line x1="205.83" y1="662.60" x2="205.83" y2="664.20" stroke="#1a1a1a" stroke-width="0.75" />
<line x1="207.66" y1="662.60" x2="207.66" y2="664.20" stroke="#1a1a1a" stroke-width="0.75" />
<line x1="208.96" y1="662.60" x2="208.96" y2="664.20" stroke="#1a1a1a" stroke-width="0.75" />
<line x1="209.97" y1="662.60" x2="209.97" y2="664.20" stroke="#1a1a1a" stroke-width="0.75" />
<line x1="210.79" y1="662.60" x2="210.79" y2="664.20" stroke="#1a1a1a" stroke-width="0.75" />
<line x1="211.49" y1="662.60" x2="211.49" y2="664.20" stroke="#1a1a1a" stroke-width="0.75" />
<line x1="212.09" y1="662.60" x2="212.09" y2="664.20" stroke="#1a1a1a" stroke-width="0.75" />
<line x1="212.62" y1="662.60" x2="212.62" y2="664.20" stroke="#1a1a1a" stroke-width="0.75" />
<rect x="222.00" y="608.60" width="55.20" height="54.00" fill="none" stroke="#1a1a1a" stroke-width="1.1"/>
<line x1="220.20" y1="611.60" x2="222.00" y2="611.60" stroke="#1a1a1a" stroke-width="0.9" />
<line x1="220.20" y1="616.80" x2="222.00" y2="616.80" stroke="#1a1a1a" stroke-width="0.9" />
<line x1="220.20" y1="622.00" x2="222.00" y2="622.00" stroke="#1a1a1a" stroke-width="0.9" />
<line x1="220.20" y1="627.20" x2="222.00" y2="627.20" stroke="#1a1a1a" stroke-width="0.9" />
<line x1="220.20" y1="632.40" x2="222.00" y2="632.40" stroke="#1a1a1a" stroke-width="0.9" />
<line x1="220.20" y1="637.60" x2="222.00" y2="637.60" stroke="#1a1a1a" stroke-width="0.9" />
<line x1="220.20" y1="642.80" x2="222.00" y2="642.80" stroke="#1a1a1a" stroke-width="0.9" />
<line x1="220.20" y1="648.00" x2="222.00" y2="648.00" stroke="#1a1a1a" stroke-width="0.9" />
<line x1="220.20" y1="653.20" x2="222.00" y2="653.20" stroke="#1a1a1a" stroke-width="0.9" />
<line x1="220.20" y1="658.40" x2="222.00" y2="658.40" stroke="#1a1a1a" stroke-width="0.9" />
<line x1="220.20" y1="663.60" x2="222.00" y2="663.60" stroke="#1a1a1a" stroke-width="0.9" />
<line x1="224.50" y1="662.60" x2="224.50" y2="665.20" stroke="#1a1a1a" stroke-width="0.75" />
<line x1="227.63" y1="662.60" x2="227.63" y2="664.20" stroke="#1a1a1a" stroke-width="0.75" />
<line x1="229.46" y1="662.60" x2="229.46" y2="664.20" stroke="#1a1a1a" stroke-width="0.75" />
<line x1="230.76" y1="662.60" x2="230.76" y2="664.20" stroke="#1a1a1a" stroke-width="0.75" />
<line x1="231.77" y1="662.60" x2="231.77" y2="664.20" stroke="#1a1a1a" stroke-width="0.75" />
<line x1="232.59" y1="662.60" x2="232.59" y2="664.20" stroke="#1a1a1a" stroke-width="0.75" />
<line x1="233.29" y1="662.60" x2="233.29" y2="664.20" stroke="#1a1a1a" stroke-width="0.75" />
<line x1="233.89" y1="662.60" x2="233.89" y2="664.20" stroke="#1a1a1a" stroke-width="0.75" />
<line x1="234.42" y1="662.60" x2="234.42" y2="664.20" stroke="#1a1a1a" stroke-width="0.75" />
<line x1="234.90" y1="662.60" x2="234.90" y2="665.20" stroke="#1a1a1a" stroke-width="0.75" />
<line x1="238.03" y1="662.60" x2="238.03" y2="664.20" stroke="#1a1a1a" stroke-width="0.75" />
<line x1="239.86" y1="662.60" x2="239.86" y2="664.20" stroke="#1a1a1a" stroke-width="0.75" />
<line x1="241.16" y1="662.60" x2="241.16" y2="664.20" stroke="#1a1a1a" stroke-width="0.75" />
<line x1="242.17" y1="662.60" x2="242.17" y2="664.20" stroke="#1a1a1a" stroke-width="0.75" />
<line x1="242.99" y1="662.60" x2="242.99" y2="664.20" stroke="#1a1a1a" stroke-width="0.75" />
<line x1="243.69" y1="662.60" x2="243.69" y2="664.20" stroke="#1a1a1a" stroke-width="0.75" />
<line x1="244.29" y1="662.60" x2="244.29" y2="664.20" stroke="#1a1a1a" stroke-width="0.75" />
<line x1="244.82" y1="662.60" x2="244.82" y2="664.20" stroke="#1a1a1a" stroke-width="0.75" />
<line x1="245.30" y1="662.60" x2="245.30" y2="665.20" stroke="#1a1a1a" stroke-width="0.75" />
<line x1="248.43" y1="662.60" x2="248.43" y2="664.20" stroke="#1a1a1a" stroke-width="0.75" />
<line x1="250.26" y1="662.60" x2="250.26" y2="664.20" stroke="#1a1a1a" stroke-width="0.75" />
<line x1="251.56" y1="662.60" x2="251.56" y2="664.20" stroke="#1a1a1a" stroke-width="0.75" />
<line x1="252.57" y1="662.60" x2="252.57" y2="664.20" stroke="#1a1a1a" stroke-width="0.75" />
<line x1="253.39" y1="662.60" x2="253.39" y2="664.20" stroke="#1a1a1a" stroke-width="0.75" />
<line x1="254.09" y1="662.60" x2="254.09" y2="664.20" stroke="#1a1a1a" stroke-width="0.75" />
<line x1="254.69" y1="662.60" x2="254.69" y2="664.20" stroke="#1a1a1a" stroke-width="0.75" />
<line x1="255.22" y1="662.60" x2="255.22" y2="664.20" stroke="#1a1a1a" stroke-width="0.75" />
<line x1="255.70" y1="662.60" x2="255.70" y2="665.20" stroke="#1a1a1a" stroke-width="0.75" />
<line x1="258.83" y1="662.60" x2="258.83" y2="664.20" stroke="#1a1a1a" stroke-width="0.75" />
<line x1="260.66" y1="662.60" x2="260.66" y2="664.20" stroke="#1a1a1a" stroke-width="0.75" />
<line x1="261.96" y1="662.60" x2="261.96" y2="664.20" stroke="#1a1a1a" stroke-width="0.75" />
<line x1="262.97" y1="662.60" x2="262.97" y2="664.20" stroke="#1a1a1a" stroke-width="0.75" />
<line x1="263.79" y1="662.60" x2="263.79" y2="664.20" stroke="#1a1a1a" stroke-width="0.75" />
<line x1="264.49" y1="662.60" x2="264.49" y2="664.20" stroke="#1a1a1a" stroke-width="0.75" />
<line x1="265.09" y1="662.60" x2="265.09" y2="664.20" stroke="#1a1a1a" stroke-width="0.75" />
<line x1="265.62" y1="662.60" x2="265.62" y2="664.20" stroke="#1a1a1a" stroke-width="0.75" />
<line x1="266.10" y1="662.60" x2="266.10" y2="665.20" stroke="#1a1a1a" stroke-width="0.75" />
<line x1="269.23" y1="662.60" x2="269.23" y2="664.20" stroke="#1a1a1a" stroke-width="0.75" />
<line x1="271.06" y1="662.60" x2="271.06" y2="664.20" stroke="#1a1a1a" stroke-width="0.75" />
<line x1="272.36" y1="662.60" x2="272.36" y2="664.20" stroke="#1a1a1a" stroke-width="0.75" />
<line x1="273.37" y1="662.60" x2="273.37" y2="664.20" stroke="#1a1a1a" stroke-width="0.75" />
<line x1="274.19" y1="662.60" x2="274.19" y2="664.20" stroke="#1a1a1a" stroke-width="0.75" />
<line x1="274.89" y1="662.60" x2="274.89" y2="664.20" stroke="#1a1a1a" stroke-width="0.75" />
<line x1="275.49" y1="662.60" x2="275.49" y2="664.20" stroke="#1a1a1a" stroke-width="0.75" />
<line x1="276.02" y1="662.60" x2="276.02" y2="664.20" stroke="#1a1a1a" stroke-width="0.75" />
<line x1="58.40" y1="631.70" x2="84.80" y2="631.70" stroke="#222" stroke-width="1.0" />
<line x1="58.40" y1="630.40" x2="58.40" y2="633.00" stroke="#222" stroke-width="0.9" />
<text transform="translate(49.15,627.80) scale(0.9495,1)" font-size="9.0" fill="#3d3d3d" stroke="#3d3d3d" stroke-width="0.24">100%</text>
<line x1="125.30" y1="631.70" x2="149.80" y2="631.70" stroke="#222" stroke-width="1.0" />
<line x1="125.30" y1="630.40" x2="125.30" y2="633.00" stroke="#222" stroke-width="0.9" />
<text transform="translate(133.70,628.40) scale(0.9535,1)" font-size="9.0" fill="#3d3d3d" stroke="#3d3d3d" stroke-width="0.24">4%</text>
<line x1="187.20" y1="631.70" x2="213.80" y2="631.70" stroke="#222" stroke-width="1.0" />
<line x1="187.20" y1="630.40" x2="187.20" y2="633.00" stroke="#222" stroke-width="0.9" />
<text transform="translate(175.76,628.20) scale(0.9404,1)" font-size="9.0" fill="#3d3d3d" stroke="#3d3d3d" stroke-width="0.24">100%</text>
<line x1="250.40" y1="631.70" x2="277.20" y2="631.70" stroke="#222" stroke-width="1.0" />
<line x1="250.40" y1="630.40" x2="250.40" y2="633.00" stroke="#222" stroke-width="0.9" />
<text transform="translate(259.41,629.00) scale(0.9379,1)" font-size="9.0" fill="#3d3d3d" stroke="#3d3d3d" stroke-width="0.24">42%</text>
<line x1="27.50" y1="674.70" x2="246.00" y2="674.70" stroke="#333" stroke-width="1.1" />
<polygon points="242.5,671.6 249.0,674.7 242.5,677.8" fill="#222"/>
<text transform="translate(252.59,677.50) scale(0.8753,1)" font-size="9.4" fill="#3d3d3d" stroke="#3d3d3d" stroke-width="0.24">GlyA</text>
<rect x="362.00" y="618.50" width="10.30" height="57.20" fill="#c9c8cd" />
<rect x="378.10" y="666.26" width="10.70" height="9.44" fill="#44aa48" />
<rect x="394.30" y="619.36" width="10.50" height="56.34" fill="#29a6df" />
<rect x="410.50" y="652.25" width="10.80" height="23.45" fill="#e8157d" />
<rect x="362.0" y="617.30" width="10.3" height="2.4" fill="#111"/>
<circle cx="379.15" cy="655.68" r="1.3" fill="#111"/>
<circle cx="387.75" cy="656.82" r="1.3" fill="#111"/>
<circle cx="383.45" cy="661.97" r="1.3" fill="#111"/>
<circle cx="380.95" cy="667.12" r="1.3" fill="#111"/>
<circle cx="385.95" cy="668.84" r="1.3" fill="#111"/>
<circle cx="383.45" cy="671.12" r="1.3" fill="#111"/>
<circle cx="379.95" cy="672.84" r="1.3" fill="#111"/>
<circle cx="386.95" cy="672.27" r="1.3" fill="#111"/>
<circle cx="383.45" cy="665.40" r="1.3" fill="#111"/>
<line x1="383.45" y1="668.84" x2="383.45" y2="663.40" stroke="#111" stroke-width="0.9" />
<line x1="381.15" y1="663.40" x2="385.75" y2="663.40" stroke="#111" stroke-width="0.9" />
<line x1="381.15" y1="668.84" x2="385.75" y2="668.84" stroke="#111" stroke-width="0.9" />
<circle cx="395.75" cy="619.07" r="1.3" fill="#111"/>
<circle cx="398.25" cy="618.79" r="1.3" fill="#111"/>
<circle cx="400.85" cy="619.07" r="1.3" fill="#111"/>
<circle cx="403.35" cy="618.79" r="1.3" fill="#111"/>
<circle cx="397.05" cy="620.50" r="1.3" fill="#111"/>
<circle cx="399.55" cy="621.07" r="1.3" fill="#111"/>
<circle cx="402.05" cy="620.50" r="1.3" fill="#111"/>
<circle cx="399.55" cy="623.93" r="1.3" fill="#111"/>
<circle cx="411.50" cy="638.52" r="1.3" fill="#111"/>
<circle cx="416.40" cy="635.09" r="1.3" fill="#111"/>
<circle cx="416.40" cy="639.66" r="1.3" fill="#111"/>
<circle cx="415.90" cy="647.67" r="1.3" fill="#111"/>
<circle cx="412.10" cy="659.68" r="1.3" fill="#111"/>
<circle cx="419.90" cy="667.69" r="1.3" fill="#111"/>
<circle cx="412.10" cy="667.69" r="1.3" fill="#111"/>
<circle cx="415.90" cy="657.97" r="1.3" fill="#111"/>
<circle cx="415.90" cy="652.82" r="1.3" fill="#111"/>
<circle cx="419.90" cy="658.54" r="1.3" fill="#111"/>
<line x1="415.90" y1="656.25" x2="415.90" y2="647.67" stroke="#111" stroke-width="0.9" />
<line x1="413.60" y1="647.67" x2="418.20" y2="647.67" stroke="#111" stroke-width="0.9" />
<line x1="413.60" y1="656.25" x2="418.20" y2="656.25" stroke="#111" stroke-width="0.9" />
<line x1="358.50" y1="602.00" x2="358.50" y2="676.25" stroke="#1a1a1a" stroke-width="1.1"  shape-rendering="crispEdges"/>
<line x1="355.50" y1="675.70" x2="358.50" y2="675.70" stroke="#1a1a1a" stroke-width="1.1"  shape-rendering="crispEdges"/>
<text transform="translate(347.43,678.90) scale(0.9300,1)" font-size="9.3" fill="#3d3d3d" stroke="#3d3d3d" stroke-width="0.24">0</text>
<line x1="355.50" y1="661.40" x2="358.50" y2="661.40" stroke="#1a1a1a" stroke-width="1.1"  shape-rendering="crispEdges"/>
<text transform="translate(335.43,664.60) scale(0.9300,1)" font-size="9.3" fill="#3d3d3d" stroke="#3d3d3d" stroke-width="0.24">0.25</text>
<line x1="355.50" y1="647.10" x2="358.50" y2="647.10" stroke="#1a1a1a" stroke-width="1.1"  shape-rendering="crispEdges"/>
<text transform="translate(335.40,650.30) scale(0.9300,1)" font-size="9.3" fill="#3d3d3d" stroke="#3d3d3d" stroke-width="0.24">0.50</text>
<line x1="355.50" y1="632.80" x2="358.50" y2="632.80" stroke="#1a1a1a" stroke-width="1.1"  shape-rendering="crispEdges"/>
<text transform="translate(335.43,636.00) scale(0.9300,1)" font-size="9.3" fill="#3d3d3d" stroke="#3d3d3d" stroke-width="0.24">0.75</text>
<line x1="355.50" y1="618.50" x2="358.50" y2="618.50" stroke="#1a1a1a" stroke-width="1.1"  shape-rendering="crispEdges"/>
<text transform="translate(335.40,621.70) scale(0.9300,1)" font-size="9.3" fill="#3d3d3d" stroke="#3d3d3d" stroke-width="0.24">1.00</text>
<line x1="355.50" y1="604.20" x2="358.50" y2="604.20" stroke="#1a1a1a" stroke-width="1.1"  shape-rendering="crispEdges"/>
<text transform="translate(335.43,607.40) scale(0.9300,1)" font-size="9.3" fill="#3d3d3d" stroke="#3d3d3d" stroke-width="0.24">1.25</text>
<line x1="358.00" y1="675.70" x2="424.50" y2="675.70" stroke="#1a1a1a" stroke-width="1.1"  shape-rendering="crispEdges"/>
<line x1="367.30" y1="675.70" x2="367.30" y2="678.30" stroke="#1a1a1a" stroke-width="1.0"  shape-rendering="crispEdges"/>
<line x1="383.45" y1="675.70" x2="383.45" y2="678.30" stroke="#1a1a1a" stroke-width="1.0"  shape-rendering="crispEdges"/>
<line x1="399.55" y1="675.70" x2="399.55" y2="678.30" stroke="#1a1a1a" stroke-width="1.0"  shape-rendering="crispEdges"/>
<line x1="415.60" y1="675.70" x2="415.60" y2="678.30" stroke="#1a1a1a" stroke-width="1.0"  shape-rendering="crispEdges"/>
<polyline points="367.20,615.70 367.20,613.70 383.00,613.70 383.00,615.70" fill="none" stroke="#1a1a1a" stroke-width="1.0" shape-rendering="crispEdges"/>
<text transform="translate(367.98,614.79) scale(1.0637,1)" font-size="8.6" fill="#1a1a1a" stroke="#1a1a1a" stroke-width="0.24">****</text>
<polyline points="383.90,615.70 383.90,613.70 399.00,613.70 399.00,615.70" fill="none" stroke="#1a1a1a" stroke-width="1.0" shape-rendering="crispEdges"/>
<text transform="translate(384.33,614.79) scale(1.0637,1)" font-size="8.6" fill="#1a1a1a" stroke="#1a1a1a" stroke-width="0.24">****</text>
<polyline points="399.90,615.70 399.90,613.70 414.10,613.70 414.10,615.70" fill="none" stroke="#1a1a1a" stroke-width="1.0" shape-rendering="crispEdges"/>
<text transform="translate(401.70,614.79) scale(1.0545,1)" font-size="8.6" fill="#1a1a1a" stroke="#1a1a1a" stroke-width="0.24">***</text>
<polyline points="384.60,604.60 384.60,602.60 414.10,602.60 414.10,604.60" fill="none" stroke="#1a1a1a" stroke-width="1.0" shape-rendering="crispEdges"/>
<text transform="translate(395.88,603.19) scale(1.0357,1)" font-size="8.6" fill="#1a1a1a" stroke="#1a1a1a" stroke-width="0.24">**</text>
<polyline points="367.30,596.50 367.30,594.50 414.10,594.50 414.10,596.50" fill="none" stroke="#1a1a1a" stroke-width="1.0" shape-rendering="crispEdges"/>
<text transform="translate(385.40,594.79) scale(1.0545,1)" font-size="8.6" fill="#1a1a1a" stroke="#1a1a1a" stroke-width="0.24">***</text>
<text transform="translate(329.00,666.00) rotate(-90) translate(-0.43,0) scale(0.7710,1)" font-size="11.0" fill="#3d3d3d" stroke="#3d3d3d" stroke-width="0.24"><tspan>GlyA</tspan><tspan font-size="7.4" dy="-4.0">+</tspan><tspan dy="4.0"> (relative)</tspan></text>
<text transform="translate(314.45,689.60) scale(1.0021,1)" font-size="8.9" fill="#3d3d3d" stroke="#3d3d3d" stroke-width="0.24">GC7 (D0-7):</text>
<text transform="translate(314.99,702.20) scale(1.0055,1)" font-size="8.9" fill="#3d3d3d" stroke="#3d3d3d" stroke-width="0.24">SUC (D0-7):</text>
<text transform="translate(365.00,689.09)" font-size="9.0" fill="#3d3d3d" stroke="#3d3d3d" stroke-width="0.24">–</text>
<text transform="translate(365.00,701.89)" font-size="9.0" fill="#3d3d3d" stroke="#3d3d3d" stroke-width="0.24">–</text>
<text transform="translate(380.67,689.80)" font-size="9.0" fill="#3d3d3d" stroke="#3d3d3d" stroke-width="0.24">+</text>
<text transform="translate(380.80,701.89)" font-size="9.0" fill="#3d3d3d" stroke="#3d3d3d" stroke-width="0.24">–</text>
<text transform="translate(397.10,689.09)" font-size="9.0" fill="#3d3d3d" stroke="#3d3d3d" stroke-width="0.24">–</text>
<text transform="translate(396.97,702.60)" font-size="9.0" fill="#3d3d3d" stroke="#3d3d3d" stroke-width="0.24">+</text>
<text transform="translate(412.77,689.80)" font-size="9.0" fill="#3d3d3d" stroke="#3d3d3d" stroke-width="0.24">+</text>
<text transform="translate(412.77,702.60)" font-size="9.0" fill="#3d3d3d" stroke="#3d3d3d" stroke-width="0.24">+</text>
<rect x="0.55" y="0.55" width="518.9" height="710.9" fill="none" stroke="#3c3c3c" stroke-width="1.1"/>
</svg></body></html>
